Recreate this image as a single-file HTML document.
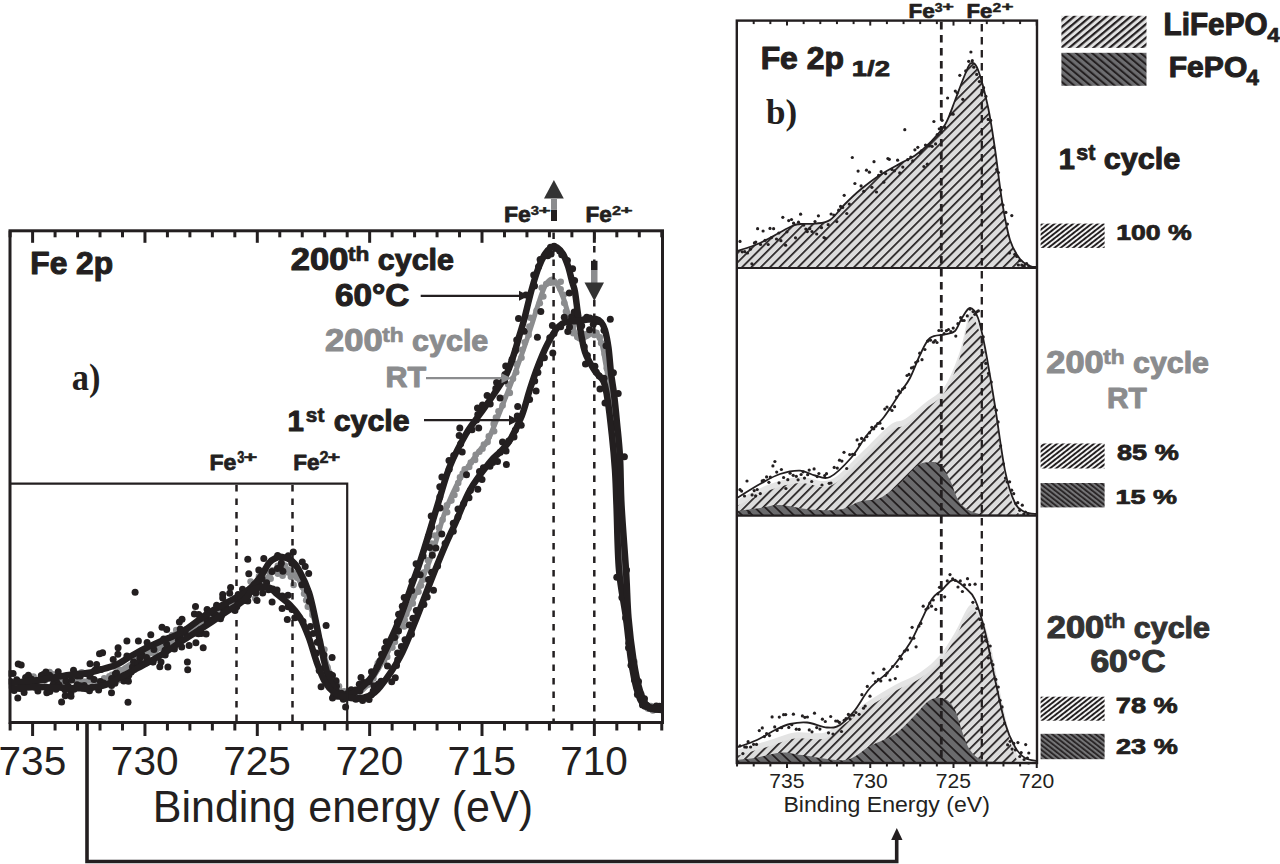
<!DOCTYPE html><html><head><meta charset="utf-8"><style>html,body{margin:0;padding:0;background:#fff;}svg{display:block}</style></head><body>
<svg width="1280" height="864" viewBox="0 0 1280 864">
<defs>
<pattern id="hl" patternUnits="userSpaceOnUse" width="6.6" height="20" patternTransform="rotate(45)"><rect width="6.6" height="20" fill="#dcdcdc"/><rect width="1.7" height="20" fill="#231f20"/></pattern>
<pattern id="hd" patternUnits="userSpaceOnUse" width="7.2" height="20" patternTransform="rotate(-46)"><rect width="7.2" height="20" fill="#6a6a6c"/><rect width="1.8" height="20" fill="#231f20"/></pattern>
<pattern id="ll" patternUnits="userSpaceOnUse" width="5.2" height="20" patternTransform="rotate(50)"><rect width="5.2" height="20" fill="#e2e2e2"/><rect width="2.2" height="20" fill="#231f20"/></pattern>
<pattern id="ld" patternUnits="userSpaceOnUse" width="5.2" height="20" patternTransform="rotate(-50)"><rect width="5.2" height="20" fill="#6d6d70"/><rect width="2.0" height="20" fill="#231f20"/></pattern>
<pattern id="sl" patternUnits="userSpaceOnUse" width="3.8" height="20" patternTransform="rotate(52)"><rect width="3.8" height="20" fill="#f2f2f2"/><rect width="1.9" height="20" fill="#231f20"/></pattern>
<pattern id="sd" patternUnits="userSpaceOnUse" width="3.8" height="20" patternTransform="rotate(-52)"><rect width="3.8" height="20" fill="#747476"/><rect width="1.7" height="20" fill="#231f20"/></pattern>
</defs>
<rect width="1280" height="864" fill="#fff"/>
<g fill="#8b8c8e"><circle cx="11.0" cy="686.2" r="3.3"/><circle cx="14.4" cy="689.7" r="3.3"/><circle cx="15.9" cy="682.9" r="3.3"/><circle cx="18.6" cy="683.6" r="3.3"/><circle cx="21.4" cy="683.9" r="3.3"/><circle cx="24.4" cy="686.1" r="3.3"/><circle cx="27.0" cy="685.1" r="3.3"/><circle cx="28.6" cy="679.3" r="3.3"/><circle cx="31.0" cy="677.6" r="3.3"/><circle cx="33.5" cy="676.5" r="3.3"/><circle cx="36.9" cy="680.7" r="3.3"/><circle cx="39.4" cy="679.7" r="3.3"/><circle cx="42.2" cy="680.1" r="3.3"/><circle cx="44.9" cy="680.7" r="3.3"/><circle cx="47.2" cy="678.1" r="3.3"/><circle cx="49.6" cy="672.0" r="3.3"/><circle cx="52.9" cy="674.2" r="3.3"/><circle cx="55.0" cy="683.1" r="3.3"/><circle cx="57.7" cy="680.6" r="3.3"/><circle cx="60.5" cy="678.5" r="3.3"/><circle cx="62.8" cy="683.4" r="3.3"/><circle cx="65.6" cy="679.1" r="3.3"/><circle cx="68.4" cy="676.6" r="3.3"/><circle cx="70.8" cy="680.0" r="3.3"/><circle cx="73.8" cy="673.8" r="3.3"/><circle cx="76.2" cy="676.7" r="3.3"/><circle cx="78.2" cy="687.3" r="3.3"/><circle cx="81.7" cy="672.4" r="3.3"/><circle cx="83.5" cy="686.7" r="3.3"/><circle cx="86.1" cy="674.0" r="3.3"/><circle cx="89.0" cy="680.3" r="3.3"/><circle cx="91.5" cy="678.3" r="3.3"/><circle cx="94.2" cy="680.3" r="3.3"/><circle cx="96.9" cy="681.6" r="3.3"/><circle cx="99.7" cy="685.6" r="3.3"/><circle cx="102.2" cy="683.5" r="3.3"/><circle cx="104.2" cy="678.4" r="3.3"/><circle cx="110.2" cy="683.6" r="3.3"/><circle cx="109.4" cy="676.4" r="3.3"/><circle cx="112.0" cy="674.9" r="3.3"/><circle cx="118.8" cy="680.0" r="3.3"/><circle cx="114.1" cy="666.5" r="3.3"/><circle cx="119.9" cy="670.2" r="3.3"/><circle cx="123.5" cy="670.2" r="3.3"/><circle cx="126.0" cy="668.4" r="3.3"/><circle cx="129.8" cy="668.7" r="3.3"/><circle cx="134.1" cy="670.1" r="3.3"/><circle cx="134.1" cy="664.4" r="3.3"/><circle cx="137.1" cy="663.7" r="3.3"/><circle cx="137.4" cy="658.1" r="3.3"/><circle cx="139.6" cy="655.9" r="3.3"/><circle cx="141.8" cy="653.7" r="3.3"/><circle cx="148.1" cy="658.9" r="3.3"/><circle cx="148.1" cy="652.7" r="3.3"/><circle cx="151.5" cy="652.8" r="3.3"/><circle cx="155.4" cy="653.7" r="3.3"/><circle cx="156.4" cy="649.2" r="3.3"/><circle cx="159.1" cy="648.1" r="3.3"/><circle cx="164.1" cy="651.1" r="3.3"/><circle cx="164.7" cy="646.0" r="3.3"/><circle cx="165.7" cy="641.7" r="3.3"/><circle cx="168.3" cy="640.2" r="3.3"/><circle cx="170.6" cy="638.3" r="3.3"/><circle cx="172.2" cy="635.0" r="3.3"/><circle cx="175.5" cy="634.9" r="3.3"/><circle cx="176.2" cy="630.0" r="3.3"/><circle cx="181.2" cy="633.4" r="3.3"/><circle cx="184.2" cy="632.4" r="3.3"/><circle cx="186.0" cy="629.4" r="3.3"/><circle cx="192.3" cy="633.1" r="3.3"/><circle cx="193.1" cy="628.6" r="3.3"/><circle cx="195.1" cy="626.1" r="3.3"/><circle cx="197.7" cy="624.2" r="3.3"/><circle cx="202.1" cy="625.1" r="3.3"/><circle cx="204.2" cy="622.6" r="3.3"/><circle cx="207.9" cy="622.5" r="3.3"/><circle cx="207.9" cy="616.8" r="3.3"/><circle cx="212.7" cy="618.7" r="3.3"/><circle cx="214.5" cy="615.8" r="3.3"/><circle cx="215.5" cy="611.6" r="3.3"/><circle cx="220.5" cy="613.9" r="3.3"/><circle cx="220.2" cy="607.6" r="3.3"/><circle cx="223.0" cy="606.2" r="3.3"/><circle cx="226.6" cy="606.2" r="3.3"/><circle cx="230.0" cy="606.0" r="3.3"/><circle cx="233.3" cy="605.7" r="3.3"/><circle cx="235.2" cy="602.9" r="3.3"/><circle cx="235.7" cy="597.8" r="3.3"/><circle cx="240.2" cy="599.5" r="3.3"/><circle cx="241.0" cy="595.1" r="3.3"/><circle cx="243.1" cy="593.0" r="3.3"/><circle cx="248.6" cy="594.9" r="3.3"/><circle cx="255.2" cy="598.3" r="3.3"/><circle cx="252.9" cy="589.8" r="3.3"/><circle cx="250.6" cy="581.5" r="3.3"/><circle cx="260.1" cy="588.3" r="3.3"/><circle cx="260.5" cy="583.4" r="3.3"/><circle cx="259.0" cy="576.2" r="3.3"/><circle cx="265.3" cy="578.6" r="3.3"/><circle cx="270.6" cy="578.8" r="3.3"/><circle cx="269.3" cy="572.3" r="3.3"/><circle cx="272.5" cy="570.3" r="3.3"/><circle cx="277.9" cy="573.7" r="3.3"/><circle cx="277.8" cy="565.8" r="3.3"/><circle cx="282.6" cy="575.8" r="3.3"/><circle cx="284.9" cy="565.6" r="3.3"/><circle cx="286.1" cy="570.4" r="3.3"/><circle cx="288.3" cy="572.5" r="3.3"/><circle cx="296.2" cy="565.4" r="3.3"/><circle cx="290.9" cy="576.8" r="3.3"/><circle cx="297.1" cy="577.8" r="3.3"/><circle cx="293.6" cy="584.9" r="3.3"/><circle cx="302.7" cy="587.1" r="3.3"/><circle cx="304.1" cy="593.8" r="3.3"/><circle cx="306.2" cy="600.2" r="3.3"/><circle cx="307.8" cy="606.8" r="3.3"/><circle cx="312.5" cy="614.9" r="3.3"/><circle cx="315.4" cy="623.6" r="3.3"/><circle cx="316.7" cy="632.8" r="3.3"/><circle cx="320.0" cy="641.4" r="3.3"/><circle cx="324.4" cy="649.5" r="3.3"/><circle cx="323.9" cy="659.0" r="3.3"/><circle cx="327.5" cy="667.3" r="3.3"/><circle cx="330.6" cy="674.4" r="3.3"/><circle cx="330.9" cy="679.9" r="3.3"/><circle cx="336.4" cy="682.3" r="3.3"/><circle cx="339.0" cy="686.3" r="3.3"/><circle cx="340.3" cy="691.5" r="3.3"/><circle cx="344.1" cy="691.2" r="3.3"/><circle cx="346.6" cy="692.3" r="3.3"/><circle cx="348.7" cy="694.9" r="3.3"/><circle cx="351.3" cy="695.5" r="3.3"/><circle cx="354.2" cy="695.6" r="3.3"/><circle cx="357.1" cy="693.8" r="3.3"/><circle cx="359.6" cy="691.4" r="3.3"/><circle cx="361.1" cy="687.8" r="3.3"/><circle cx="363.7" cy="685.7" r="3.3"/><circle cx="367.6" cy="684.9" r="3.3"/><circle cx="368.2" cy="680.9" r="3.3"/><circle cx="373.4" cy="678.5" r="3.3"/><circle cx="373.1" cy="672.4" r="3.3"/><circle cx="377.2" cy="668.8" r="3.3"/><circle cx="377.8" cy="663.3" r="3.3"/><circle cx="384.0" cy="660.9" r="3.3"/><circle cx="387.2" cy="656.9" r="3.3"/><circle cx="386.6" cy="650.6" r="3.3"/><circle cx="392.4" cy="647.6" r="3.3"/><circle cx="394.9" cy="642.1" r="3.3"/><circle cx="396.3" cy="636.1" r="3.3"/><circle cx="396.5" cy="629.4" r="3.3"/><circle cx="404.2" cy="626.4" r="3.3"/><circle cx="404.7" cy="620.0" r="3.3"/><circle cx="406.3" cy="614.0" r="3.3"/><circle cx="408.4" cy="608.3" r="3.3"/><circle cx="412.8" cy="603.4" r="3.3"/><circle cx="413.4" cy="596.5" r="3.3"/><circle cx="418.5" cy="591.7" r="3.3"/><circle cx="421.0" cy="585.6" r="3.3"/><circle cx="423.5" cy="579.6" r="3.3"/><circle cx="423.9" cy="572.6" r="3.3"/><circle cx="427.2" cy="567.0" r="3.3"/><circle cx="427.9" cy="560.3" r="3.3"/><circle cx="432.2" cy="553.0" r="3.3"/><circle cx="431.5" cy="543.6" r="3.3"/><circle cx="434.9" cy="535.5" r="3.3"/><circle cx="438.9" cy="527.7" r="3.3"/><circle cx="442.6" cy="519.7" r="3.3"/><circle cx="447.1" cy="512.3" r="3.3"/><circle cx="446.9" cy="505.4" r="3.3"/><circle cx="451.4" cy="500.6" r="3.3"/><circle cx="454.4" cy="495.0" r="3.3"/><circle cx="456.4" cy="489.0" r="3.3"/><circle cx="458.2" cy="483.0" r="3.3"/><circle cx="460.0" cy="477.4" r="3.3"/><circle cx="462.7" cy="473.6" r="3.3"/><circle cx="464.7" cy="469.4" r="3.3"/><circle cx="469.2" cy="466.9" r="3.3"/><circle cx="470.8" cy="462.5" r="3.3"/><circle cx="475.1" cy="459.9" r="3.3"/><circle cx="475.7" cy="454.7" r="3.3"/><circle cx="479.4" cy="451.7" r="3.3"/><circle cx="482.5" cy="448.7" r="3.3"/><circle cx="483.9" cy="444.5" r="3.3"/><circle cx="487.6" cy="442.1" r="3.3"/><circle cx="488.8" cy="436.4" r="3.3"/><circle cx="494.1" cy="431.3" r="3.3"/><circle cx="493.7" cy="423.9" r="3.3"/><circle cx="496.0" cy="417.6" r="3.3"/><circle cx="498.5" cy="411.3" r="3.3"/><circle cx="502.6" cy="405.5" r="3.3"/><circle cx="503.9" cy="398.3" r="3.3"/><circle cx="509.8" cy="392.9" r="3.3"/><circle cx="508.3" cy="384.6" r="3.3"/><circle cx="513.0" cy="378.8" r="3.3"/><circle cx="516.2" cy="372.2" r="3.3"/><circle cx="516.4" cy="364.1" r="3.3"/><circle cx="521.5" cy="357.8" r="3.3"/><circle cx="522.1" cy="349.8" r="3.3"/><circle cx="524.8" cy="342.3" r="3.3"/><circle cx="528.6" cy="334.9" r="3.3"/><circle cx="529.4" cy="326.5" r="3.3"/><circle cx="530.4" cy="317.8" r="3.3"/><circle cx="536.6" cy="310.8" r="3.3"/><circle cx="539.8" cy="303.2" r="3.3"/><circle cx="543.3" cy="296.5" r="3.3"/><circle cx="541.7" cy="287.8" r="3.3"/><circle cx="546.2" cy="284.0" r="3.3"/><circle cx="550.2" cy="282.8" r="3.3"/><circle cx="552.1" cy="281.6" r="3.3"/><circle cx="553.3" cy="282.5" r="3.3"/><circle cx="560.7" cy="281.7" r="3.3"/><circle cx="560.6" cy="289.2" r="3.3"/><circle cx="563.7" cy="294.7" r="3.3"/><circle cx="564.2" cy="303.0" r="3.3"/><circle cx="566.0" cy="311.5" r="3.3"/><circle cx="570.4" cy="318.5" r="3.3"/><circle cx="572.9" cy="325.9" r="3.3"/><circle cx="573.3" cy="333.2" r="3.3"/><circle cx="577.3" cy="337.1" r="3.3"/><circle cx="580.3" cy="338.2" r="3.3"/><circle cx="583.1" cy="338.0" r="3.3"/><circle cx="584.8" cy="334.4" r="3.3"/><circle cx="587.6" cy="334.5" r="3.3"/><circle cx="589.7" cy="332.5" r="3.3"/><circle cx="594.4" cy="335.0" r="3.3"/><circle cx="596.4" cy="332.8" r="3.3"/><circle cx="599.8" cy="337.4" r="3.3"/><circle cx="601.1" cy="343.1" r="3.3"/><circle cx="604.7" cy="354.0" r="3.3"/><circle cx="606.8" cy="368.2" r="3.3"/><circle cx="607.7" cy="384.0" r="3.3"/><circle cx="608.8" cy="400.4" r="3.3"/><circle cx="613.4" cy="427.1" r="3.3"/><circle cx="617.1" cy="466.6" r="3.3"/><circle cx="621.0" cy="519.5" r="3.3"/><circle cx="623.1" cy="561.8" r="3.3"/><circle cx="625.0" cy="592.4" r="3.3"/><circle cx="626.3" cy="619.8" r="3.3"/><circle cx="629.7" cy="641.5" r="3.3"/><circle cx="634.3" cy="661.6" r="3.3"/><circle cx="635.1" cy="674.3" r="3.3"/><circle cx="636.2" cy="687.0" r="3.3"/><circle cx="641.2" cy="694.1" r="3.3"/><circle cx="642.8" cy="700.2" r="3.3"/><circle cx="646.0" cy="705.3" r="3.3"/><circle cx="647.8" cy="708.6" r="3.3"/><circle cx="650.9" cy="706.0" r="3.3"/><circle cx="652.8" cy="710.4" r="3.3"/><circle cx="655.7" cy="709.1" r="3.3"/><circle cx="658.3" cy="709.4" r="3.3"/></g>
<path d="M10.0,686.0 C16.7,684.8 37.5,679.8 50.0,679.0 C62.5,678.2 75.8,680.8 85.0,681.0 C94.2,681.2 97.3,682.8 105.0,680.0 C112.7,677.2 122.5,669.0 131.0,664.0 C139.5,659.0 147.5,654.7 156.0,650.0 C164.5,645.3 173.5,641.2 182.0,636.0 C190.5,630.8 199.7,623.8 207.0,619.0 C214.3,614.2 220.0,610.7 226.0,607.0 C232.0,603.3 238.2,600.2 243.0,597.0 C247.8,593.8 251.3,590.8 255.0,588.0 C258.7,585.2 261.7,583.0 265.0,580.0 C268.3,577.0 272.2,572.1 275.0,570.0 C277.8,567.9 279.2,567.3 282.0,567.5 C284.8,567.7 289.0,568.6 292.0,571.0 C295.0,573.4 297.0,576.2 300.0,582.0 C303.0,587.8 306.7,596.3 310.0,606.0 C313.3,615.7 316.7,628.8 320.0,640.0 C323.3,651.2 326.3,664.3 330.0,673.0 C333.7,681.7 337.8,688.3 342.0,692.0 C346.2,695.7 350.3,696.7 355.0,695.0 C359.7,693.3 364.2,689.8 370.0,682.0 C375.8,674.2 383.3,660.7 390.0,648.0 C396.7,635.3 403.3,620.7 410.0,606.0 C416.7,591.3 424.2,575.7 430.0,560.0 C435.8,544.3 440.0,525.5 445.0,512.0 C450.0,498.5 454.2,489.3 460.0,479.0 C465.8,468.7 475.3,456.5 480.0,450.0 C484.7,443.5 484.5,446.8 488.0,440.0 C491.5,433.2 496.5,420.2 501.0,409.0 C505.5,397.8 511.2,383.2 515.0,373.0 C518.8,362.8 521.3,355.7 524.0,348.0 C526.7,340.3 528.7,334.2 531.0,327.0 C533.3,319.8 535.7,311.8 538.0,305.0 C540.3,298.2 542.7,290.3 545.0,286.0 C547.3,281.7 550.0,279.3 552.0,279.0 C554.0,278.7 555.2,281.0 557.0,284.0 C558.8,287.0 561.2,292.2 563.0,297.0 C564.8,301.8 566.2,307.5 568.0,313.0 C569.8,318.5 572.2,325.7 574.0,330.0 C575.8,334.3 576.7,338.0 579.0,339.0 C581.3,340.0 585.3,337.2 588.0,336.0 C590.7,334.8 593.1,330.7 595.4,332.0 C597.7,333.3 600.1,339.5 601.7,344.0 C603.3,348.5 603.8,353.4 604.8,359.0 C605.8,364.6 606.8,370.2 608.0,377.5 C609.2,384.8 610.8,392.8 612.0,402.5 C613.2,412.2 614.2,424.8 615.0,436.0 C615.8,447.2 616.4,458.5 617.0,470.0 C617.6,481.5 617.6,488.3 618.5,505.0 C619.4,521.7 621.1,551.2 622.5,570.0 C623.9,588.8 625.4,603.0 627.0,618.0 C628.6,633.0 630.1,647.8 632.0,660.0 C633.9,672.2 636.2,683.2 638.5,691.0 C640.8,698.8 642.1,703.9 646.0,707.0 C649.9,710.1 659.3,709.1 662.0,709.5" fill="none" stroke="#8b8c8e" stroke-width="5" stroke-linejoin="round"/>
<g fill="#231f20"><circle cx="10.2" cy="673.5" r="3.5"/><circle cx="13.1" cy="673.5" r="3.5"/><circle cx="16.7" cy="679.8" r="3.5"/><circle cx="18.2" cy="664.0" r="3.5"/><circle cx="24.1" cy="692.5" r="3.5"/><circle cx="25.6" cy="677.4" r="3.5"/><circle cx="28.4" cy="675.2" r="3.5"/><circle cx="32.1" cy="682.0" r="3.5"/><circle cx="35.7" cy="686.0" r="3.5"/><circle cx="38.1" cy="680.5" r="3.5"/><circle cx="41.1" cy="680.0" r="3.5"/><circle cx="43.3" cy="674.4" r="3.5"/><circle cx="45.9" cy="671.9" r="3.5"/><circle cx="49.6" cy="675.3" r="3.5"/><circle cx="53.2" cy="679.0" r="3.5"/><circle cx="56.9" cy="682.4" r="3.5"/><circle cx="58.2" cy="671.7" r="3.5"/><circle cx="65.2" cy="695.7" r="3.5"/><circle cx="65.9" cy="680.9" r="3.5"/><circle cx="70.8" cy="693.2" r="3.5"/><circle cx="71.6" cy="680.0" r="3.5"/><circle cx="73.5" cy="670.3" r="3.5"/><circle cx="77.2" cy="675.9" r="3.5"/><circle cx="80.3" cy="676.1" r="3.5"/><circle cx="84.3" cy="685.4" r="3.5"/><circle cx="86.0" cy="673.4" r="3.5"/><circle cx="89.9" cy="676.2" r="3.5"/><circle cx="90.0" cy="663.7" r="3.5"/><circle cx="94.8" cy="670.3" r="3.5"/><circle cx="96.6" cy="664.6" r="3.5"/><circle cx="101.0" cy="669.4" r="3.5"/><circle cx="99.5" cy="653.7" r="3.5"/><circle cx="102.6" cy="652.8" r="3.5"/><circle cx="115.0" cy="683.2" r="3.5"/><circle cx="115.4" cy="673.8" r="3.5"/><circle cx="123.8" cy="681.1" r="3.5"/><circle cx="127.7" cy="677.9" r="3.5"/><circle cx="117.9" cy="654.2" r="3.5"/><circle cx="118.1" cy="647.7" r="3.5"/><circle cx="126.9" cy="655.9" r="3.5"/><circle cx="136.0" cy="664.9" r="3.5"/><circle cx="126.9" cy="641.0" r="3.5"/><circle cx="139.9" cy="658.2" r="3.5"/><circle cx="141.9" cy="654.7" r="3.5"/><circle cx="138.4" cy="641.0" r="3.5"/><circle cx="152.8" cy="661.8" r="3.5"/><circle cx="147.1" cy="642.6" r="3.5"/><circle cx="153.9" cy="649.4" r="3.5"/><circle cx="150.8" cy="634.7" r="3.5"/><circle cx="135.1" cy="592.3" r="3.5"/><circle cx="165.0" cy="650.2" r="3.5"/><circle cx="163.7" cy="639.1" r="3.5"/><circle cx="162.0" cy="627.2" r="3.5"/><circle cx="166.7" cy="629.6" r="3.5"/><circle cx="187.7" cy="669.7" r="3.5"/><circle cx="178.4" cy="640.2" r="3.5"/><circle cx="179.9" cy="635.4" r="3.5"/><circle cx="180.2" cy="628.9" r="3.5"/><circle cx="179.4" cy="622.0" r="3.5"/><circle cx="182.0" cy="619.3" r="3.5"/><circle cx="196.3" cy="632.9" r="3.5"/><circle cx="201.3" cy="633.5" r="3.5"/><circle cx="206.1" cy="633.9" r="3.5"/><circle cx="200.0" cy="619.0" r="3.5"/><circle cx="195.5" cy="606.4" r="3.5"/><circle cx="206.5" cy="615.5" r="3.5"/><circle cx="207.1" cy="609.6" r="3.5"/><circle cx="213.3" cy="613.3" r="3.5"/><circle cx="220.5" cy="618.8" r="3.5"/><circle cx="216.6" cy="605.2" r="3.5"/><circle cx="223.7" cy="610.6" r="3.5"/><circle cx="225.7" cy="607.1" r="3.5"/><circle cx="222.7" cy="594.5" r="3.5"/><circle cx="235.0" cy="610.4" r="3.5"/><circle cx="229.7" cy="593.2" r="3.5"/><circle cx="230.6" cy="587.5" r="3.5"/><circle cx="238.2" cy="594.5" r="3.5"/><circle cx="245.4" cy="600.4" r="3.5"/><circle cx="242.5" cy="589.3" r="3.5"/><circle cx="257.0" cy="600.4" r="3.5"/><circle cx="255.9" cy="593.0" r="3.5"/><circle cx="254.4" cy="584.6" r="3.5"/><circle cx="248.8" cy="573.7" r="3.5"/><circle cx="262.0" cy="578.8" r="3.5"/><circle cx="258.8" cy="570.1" r="3.5"/><circle cx="272.0" cy="571.6" r="3.5"/><circle cx="263.8" cy="558.6" r="3.5"/><circle cx="277.4" cy="568.5" r="3.5"/><circle cx="282.9" cy="571.3" r="3.5"/><circle cx="277.6" cy="555.5" r="3.5"/><circle cx="281.4" cy="562.9" r="3.5"/><circle cx="280.3" cy="567.0" r="3.5"/><circle cx="288.3" cy="555.8" r="3.5"/><circle cx="293.3" cy="551.9" r="3.5"/><circle cx="291.8" cy="563.3" r="3.5"/><circle cx="302.3" cy="561.9" r="3.5"/><circle cx="305.2" cy="566.6" r="3.5"/><circle cx="308.7" cy="573.6" r="3.5"/><circle cx="301.8" cy="584.8" r="3.5"/><circle cx="307.4" cy="590.4" r="3.5"/><circle cx="309.3" cy="601.2" r="3.5"/><circle cx="294.8" cy="617.8" r="3.5"/><circle cx="326.1" cy="625.5" r="3.5"/><circle cx="319.5" cy="642.2" r="3.5"/><circle cx="324.0" cy="655.1" r="3.5"/><circle cx="321.1" cy="669.0" r="3.5"/><circle cx="332.5" cy="675.6" r="3.5"/><circle cx="331.2" cy="684.0" r="3.5"/><circle cx="334.0" cy="689.8" r="3.5"/><circle cx="332.5" cy="697.9" r="3.5"/><circle cx="341.4" cy="693.2" r="3.5"/><circle cx="344.0" cy="698.6" r="3.5"/><circle cx="347.0" cy="693.8" r="3.5"/><circle cx="350.2" cy="695.3" r="3.5"/><circle cx="351.2" cy="689.8" r="3.5"/><circle cx="355.5" cy="690.1" r="3.5"/><circle cx="359.9" cy="690.7" r="3.5"/><circle cx="359.3" cy="684.2" r="3.5"/><circle cx="363.9" cy="682.6" r="3.5"/><circle cx="369.2" cy="681.5" r="3.5"/><circle cx="378.4" cy="684.0" r="3.5"/><circle cx="371.5" cy="671.7" r="3.5"/><circle cx="377.1" cy="667.1" r="3.5"/><circle cx="379.9" cy="661.0" r="3.5"/><circle cx="381.5" cy="654.3" r="3.5"/><circle cx="384.7" cy="648.3" r="3.5"/><circle cx="386.3" cy="641.7" r="3.5"/><circle cx="394.7" cy="637.6" r="3.5"/><circle cx="398.5" cy="631.0" r="3.5"/><circle cx="397.4" cy="622.3" r="3.5"/><circle cx="398.6" cy="614.3" r="3.5"/><circle cx="402.3" cy="606.2" r="3.5"/><circle cx="404.2" cy="597.4" r="3.5"/><circle cx="411.7" cy="590.6" r="3.5"/><circle cx="412.0" cy="581.3" r="3.5"/><circle cx="420.2" cy="574.7" r="3.5"/><circle cx="416.1" cy="563.8" r="3.5"/><circle cx="423.1" cy="555.9" r="3.5"/><circle cx="429.7" cy="547.5" r="3.5"/><circle cx="428.4" cy="536.5" r="3.5"/><circle cx="431.6" cy="526.9" r="3.5"/><circle cx="431.2" cy="515.9" r="3.5"/><circle cx="440.2" cy="507.9" r="3.5"/><circle cx="439.8" cy="496.9" r="3.5"/><circle cx="439.8" cy="486.7" r="3.5"/><circle cx="441.9" cy="477.1" r="3.5"/><circle cx="449.2" cy="469.2" r="3.5"/><circle cx="449.0" cy="460.5" r="3.5"/><circle cx="453.7" cy="455.4" r="3.5"/><circle cx="462.2" cy="452.1" r="3.5"/><circle cx="460.7" cy="443.8" r="3.5"/><circle cx="459.2" cy="435.6" r="3.5"/><circle cx="459.8" cy="427.9" r="3.5"/><circle cx="472.0" cy="429.7" r="3.5"/><circle cx="478.7" cy="428.0" r="3.5"/><circle cx="476.5" cy="420.1" r="3.5"/><circle cx="477.8" cy="414.6" r="3.5"/><circle cx="477.5" cy="408.0" r="3.5"/><circle cx="482.5" cy="405.1" r="3.5"/><circle cx="490.2" cy="404.1" r="3.5"/><circle cx="487.1" cy="395.6" r="3.5"/><circle cx="500.0" cy="398.0" r="3.5"/><circle cx="495.8" cy="388.5" r="3.5"/><circle cx="496.6" cy="382.4" r="3.5"/><circle cx="504.6" cy="380.8" r="3.5"/><circle cx="504.9" cy="374.5" r="3.5"/><circle cx="505.7" cy="366.0" r="3.5"/><circle cx="512.0" cy="359.6" r="3.5"/><circle cx="515.5" cy="350.5" r="3.5"/><circle cx="516.7" cy="339.9" r="3.5"/><circle cx="524.2" cy="331.2" r="3.5"/><circle cx="518.5" cy="318.5" r="3.5"/><circle cx="540.8" cy="311.4" r="3.5"/><circle cx="525.9" cy="295.0" r="3.5"/><circle cx="534.5" cy="285.9" r="3.5"/><circle cx="533.7" cy="274.9" r="3.5"/><circle cx="538.5" cy="266.7" r="3.5"/><circle cx="540.1" cy="259.5" r="3.5"/><circle cx="547.7" cy="255.7" r="3.5"/><circle cx="551.1" cy="254.1" r="3.5"/><circle cx="550.5" cy="247.3" r="3.5"/><circle cx="554.1" cy="246.3" r="3.5"/><circle cx="556.4" cy="248.5" r="3.5"/><circle cx="559.6" cy="251.1" r="3.5"/><circle cx="561.7" cy="254.8" r="3.5"/><circle cx="567.4" cy="260.6" r="3.5"/><circle cx="572.6" cy="268.8" r="3.5"/><circle cx="574.6" cy="280.4" r="3.5"/><circle cx="569.3" cy="293.1" r="3.5"/><circle cx="575.9" cy="314.1" r="3.5"/><circle cx="589.6" cy="329.7" r="3.5"/><circle cx="584.3" cy="346.8" r="3.5"/><circle cx="587.4" cy="355.6" r="3.5"/><circle cx="585.5" cy="363.9" r="3.5"/><circle cx="594.9" cy="366.2" r="3.5"/><circle cx="596.2" cy="372.1" r="3.5"/><circle cx="599.2" cy="375.9" r="3.5"/><circle cx="604.0" cy="378.2" r="3.5"/><circle cx="600.0" cy="389.1" r="3.5"/><circle cx="605.0" cy="403.0" r="3.5"/><circle cx="613.4" cy="427.4" r="3.5"/><circle cx="615.6" cy="458.5" r="3.5"/><circle cx="620.5" cy="517.9" r="3.5"/><circle cx="616.8" cy="577.2" r="3.5"/><circle cx="621.9" cy="597.6" r="3.5"/><circle cx="625.6" cy="618.0" r="3.5"/><circle cx="628.8" cy="643.2" r="3.5"/><circle cx="631.0" cy="665.2" r="3.5"/><circle cx="634.5" cy="680.1" r="3.5"/><circle cx="638.9" cy="691.6" r="3.5"/><circle cx="640.8" cy="698.1" r="3.5"/><circle cx="642.5" cy="704.9" r="3.5"/><circle cx="647.1" cy="705.5" r="3.5"/><circle cx="649.9" cy="707.6" r="3.5"/><circle cx="652.9" cy="708.1" r="3.5"/><circle cx="656.3" cy="706.0" r="3.5"/><circle cx="659.4" cy="706.3" r="3.5"/></g>
<g fill="#231f20"><circle cx="10.5" cy="681.4" r="3.5"/><circle cx="14.1" cy="690.5" r="3.5"/><circle cx="17.8" cy="697.9" r="3.5"/><circle cx="20.0" cy="688.6" r="3.5"/><circle cx="21.2" cy="665.1" r="3.5"/><circle cx="25.7" cy="684.0" r="3.5"/><circle cx="28.8" cy="685.0" r="3.5"/><circle cx="31.3" cy="678.9" r="3.5"/><circle cx="35.0" cy="687.3" r="3.5"/><circle cx="37.9" cy="691.0" r="3.5"/><circle cx="41.3" cy="675.5" r="3.5"/><circle cx="44.2" cy="679.8" r="3.5"/><circle cx="46.8" cy="692.7" r="3.5"/><circle cx="49.9" cy="691.4" r="3.5"/><circle cx="53.1" cy="684.5" r="3.5"/><circle cx="56.0" cy="689.2" r="3.5"/><circle cx="59.1" cy="684.9" r="3.5"/><circle cx="61.6" cy="702.1" r="3.5"/><circle cx="64.9" cy="689.8" r="3.5"/><circle cx="68.0" cy="686.1" r="3.5"/><circle cx="71.0" cy="696.3" r="3.5"/><circle cx="74.0" cy="689.2" r="3.5"/><circle cx="77.0" cy="684.7" r="3.5"/><circle cx="80.0" cy="685.7" r="3.5"/><circle cx="83.0" cy="688.3" r="3.5"/><circle cx="86.1" cy="688.8" r="3.5"/><circle cx="89.5" cy="690.7" r="3.5"/><circle cx="92.1" cy="687.3" r="3.5"/><circle cx="94.0" cy="679.5" r="3.5"/><circle cx="98.6" cy="689.9" r="3.5"/><circle cx="100.4" cy="681.4" r="3.5"/><circle cx="103.6" cy="682.9" r="3.5"/><circle cx="111.5" cy="692.7" r="3.5"/><circle cx="111.6" cy="685.6" r="3.5"/><circle cx="111.6" cy="678.4" r="3.5"/><circle cx="128.0" cy="702.3" r="3.5"/><circle cx="116.5" cy="673.1" r="3.5"/><circle cx="113.2" cy="659.6" r="3.5"/><circle cx="128.4" cy="681.3" r="3.5"/><circle cx="128.9" cy="675.0" r="3.5"/><circle cx="131.2" cy="672.1" r="3.5"/><circle cx="132.4" cy="667.0" r="3.5"/><circle cx="133.5" cy="661.8" r="3.5"/><circle cx="137.9" cy="663.0" r="3.5"/><circle cx="142.3" cy="664.1" r="3.5"/><circle cx="145.7" cy="663.0" r="3.5"/><circle cx="146.5" cy="657.5" r="3.5"/><circle cx="153.1" cy="662.1" r="3.5"/><circle cx="159.8" cy="666.7" r="3.5"/><circle cx="161.0" cy="661.9" r="3.5"/><circle cx="167.9" cy="666.9" r="3.5"/><circle cx="165.2" cy="655.0" r="3.5"/><circle cx="166.1" cy="649.8" r="3.5"/><circle cx="166.7" cy="644.2" r="3.5"/><circle cx="174.4" cy="649.1" r="3.5"/><circle cx="187.4" cy="662.0" r="3.5"/><circle cx="181.7" cy="647.1" r="3.5"/><circle cx="178.7" cy="636.1" r="3.5"/><circle cx="189.1" cy="645.4" r="3.5"/><circle cx="185.2" cy="632.8" r="3.5"/><circle cx="195.9" cy="642.8" r="3.5"/><circle cx="203.2" cy="647.7" r="3.5"/><circle cx="198.5" cy="633.8" r="3.5"/><circle cx="200.1" cy="629.7" r="3.5"/><circle cx="194.4" cy="614.1" r="3.5"/><circle cx="198.7" cy="614.4" r="3.5"/><circle cx="206.7" cy="620.3" r="3.5"/><circle cx="211.1" cy="620.2" r="3.5"/><circle cx="214.4" cy="618.7" r="3.5"/><circle cx="216.4" cy="615.2" r="3.5"/><circle cx="221.4" cy="616.0" r="3.5"/><circle cx="219.6" cy="606.9" r="3.5"/><circle cx="225.4" cy="608.9" r="3.5"/><circle cx="222.7" cy="598.1" r="3.5"/><circle cx="234.1" cy="609.2" r="3.5"/><circle cx="236.8" cy="606.8" r="3.5"/><circle cx="237.7" cy="601.7" r="3.5"/><circle cx="240.9" cy="600.2" r="3.5"/><circle cx="247.8" cy="601.1" r="3.5"/><circle cx="248.2" cy="595.4" r="3.5"/><circle cx="248.9" cy="589.9" r="3.5"/><circle cx="254.7" cy="591.8" r="3.5"/><circle cx="247.8" cy="559.3" r="3.5"/><circle cx="259.1" cy="584.6" r="3.5"/><circle cx="262.7" cy="592.9" r="3.5"/><circle cx="266.6" cy="582.7" r="3.5"/><circle cx="268.5" cy="589.7" r="3.5"/><circle cx="272.8" cy="588.9" r="3.5"/><circle cx="277.0" cy="590.1" r="3.5"/><circle cx="272.1" cy="602.0" r="3.5"/><circle cx="282.3" cy="595.9" r="3.5"/><circle cx="288.0" cy="595.2" r="3.5"/><circle cx="282.1" cy="608.4" r="3.5"/><circle cx="288.1" cy="606.8" r="3.5"/><circle cx="292.0" cy="609.6" r="3.5"/><circle cx="287.3" cy="619.4" r="3.5"/><circle cx="298.1" cy="616.9" r="3.5"/><circle cx="303.0" cy="621.6" r="3.5"/><circle cx="310.4" cy="626.5" r="3.5"/><circle cx="313.1" cy="633.6" r="3.5"/><circle cx="317.2" cy="642.3" r="3.5"/><circle cx="316.3" cy="652.9" r="3.5"/><circle cx="332.1" cy="657.5" r="3.5"/><circle cx="319.2" cy="670.5" r="3.5"/><circle cx="330.1" cy="674.2" r="3.5"/><circle cx="321.1" cy="686.7" r="3.5"/><circle cx="336.0" cy="680.7" r="3.5"/><circle cx="336.5" cy="686.3" r="3.5"/><circle cx="333.6" cy="695.5" r="3.5"/><circle cx="337.1" cy="696.3" r="3.5"/><circle cx="340.6" cy="696.4" r="3.5"/><circle cx="343.3" cy="699.2" r="3.5"/><circle cx="345.6" cy="707.1" r="3.5"/><circle cx="350.6" cy="693.4" r="3.5"/><circle cx="353.7" cy="693.2" r="3.5"/><circle cx="355.9" cy="699.3" r="3.5"/><circle cx="359.1" cy="698.3" r="3.5"/><circle cx="362.6" cy="700.5" r="3.5"/><circle cx="361.0" cy="677.6" r="3.5"/><circle cx="369.1" cy="699.6" r="3.5"/><circle cx="371.3" cy="694.7" r="3.5"/><circle cx="373.2" cy="690.9" r="3.5"/><circle cx="373.9" cy="685.7" r="3.5"/><circle cx="378.7" cy="685.9" r="3.5"/><circle cx="381.1" cy="681.3" r="3.5"/><circle cx="391.7" cy="681.8" r="3.5"/><circle cx="395.3" cy="677.7" r="3.5"/><circle cx="387.5" cy="666.0" r="3.5"/><circle cx="396.5" cy="665.5" r="3.5"/><circle cx="397.7" cy="659.8" r="3.5"/><circle cx="397.6" cy="653.1" r="3.5"/><circle cx="401.4" cy="646.6" r="3.5"/><circle cx="405.0" cy="639.8" r="3.5"/><circle cx="411.5" cy="634.3" r="3.5"/><circle cx="409.3" cy="625.1" r="3.5"/><circle cx="412.9" cy="618.2" r="3.5"/><circle cx="416.3" cy="610.6" r="3.5"/><circle cx="423.9" cy="604.5" r="3.5"/><circle cx="427.2" cy="596.9" r="3.5"/><circle cx="433.5" cy="590.3" r="3.5"/><circle cx="428.6" cy="579.6" r="3.5"/><circle cx="431.6" cy="572.2" r="3.5"/><circle cx="437.6" cy="566.0" r="3.5"/><circle cx="432.3" cy="555.2" r="3.5"/><circle cx="435.9" cy="548.0" r="3.5"/><circle cx="445.1" cy="543.4" r="3.5"/><circle cx="441.8" cy="533.9" r="3.5"/><circle cx="453.3" cy="531.2" r="3.5"/><circle cx="453.3" cy="523.3" r="3.5"/><circle cx="457.9" cy="517.1" r="3.5"/><circle cx="458.0" cy="509.1" r="3.5"/><circle cx="463.7" cy="503.5" r="3.5"/><circle cx="469.0" cy="497.7" r="3.5"/><circle cx="470.5" cy="490.3" r="3.5"/><circle cx="477.8" cy="489.2" r="3.5"/><circle cx="466.5" cy="474.8" r="3.5"/><circle cx="482.0" cy="479.5" r="3.5"/><circle cx="479.5" cy="471.4" r="3.5"/><circle cx="483.4" cy="467.8" r="3.5"/><circle cx="490.0" cy="466.2" r="3.5"/><circle cx="492.7" cy="462.6" r="3.5"/><circle cx="497.5" cy="461.5" r="3.5"/><circle cx="506.4" cy="464.4" r="3.5"/><circle cx="500.3" cy="452.2" r="3.5"/><circle cx="506.1" cy="451.0" r="3.5"/><circle cx="502.5" cy="441.9" r="3.5"/><circle cx="508.7" cy="441.0" r="3.5"/><circle cx="514.0" cy="436.9" r="3.5"/><circle cx="515.4" cy="429.9" r="3.5"/><circle cx="521.2" cy="425.2" r="3.5"/><circle cx="517.3" cy="415.9" r="3.5"/><circle cx="517.7" cy="406.6" r="3.5"/><circle cx="529.6" cy="399.6" r="3.5"/><circle cx="536.1" cy="391.0" r="3.5"/><circle cx="534.7" cy="381.0" r="3.5"/><circle cx="537.9" cy="372.4" r="3.5"/><circle cx="539.5" cy="363.9" r="3.5"/><circle cx="544.4" cy="357.7" r="3.5"/><circle cx="552.8" cy="353.0" r="3.5"/><circle cx="537.4" cy="337.3" r="3.5"/><circle cx="549.8" cy="337.7" r="3.5"/><circle cx="554.0" cy="333.6" r="3.5"/><circle cx="552.4" cy="325.5" r="3.5"/><circle cx="560.7" cy="326.8" r="3.5"/><circle cx="567.8" cy="331.5" r="3.5"/><circle cx="564.3" cy="317.2" r="3.5"/><circle cx="569.5" cy="326.9" r="3.5"/><circle cx="571.6" cy="317.1" r="3.5"/><circle cx="574.2" cy="312.1" r="3.5"/><circle cx="577.8" cy="319.1" r="3.5"/><circle cx="581.7" cy="325.8" r="3.5"/><circle cx="583.9" cy="319.7" r="3.5"/><circle cx="586.7" cy="317.3" r="3.5"/><circle cx="589.9" cy="318.1" r="3.5"/><circle cx="593.3" cy="324.2" r="3.5"/><circle cx="595.4" cy="321.4" r="3.5"/><circle cx="598.6" cy="321.5" r="3.5"/><circle cx="610.3" cy="319.3" r="3.5"/><circle cx="604.0" cy="330.3" r="3.5"/><circle cx="606.0" cy="345.7" r="3.5"/><circle cx="613.4" cy="372.7" r="3.5"/><circle cx="618.2" cy="393.5" r="3.5"/><circle cx="615.9" cy="423.1" r="3.5"/><circle cx="624.4" cy="456.8" r="3.5"/><circle cx="621.1" cy="526.8" r="3.5"/><circle cx="626.5" cy="570.0" r="3.5"/><circle cx="627.4" cy="622.3" r="3.5"/><circle cx="628.5" cy="647.8" r="3.5"/><circle cx="632.7" cy="667.6" r="3.5"/><circle cx="638.5" cy="681.4" r="3.5"/><circle cx="637.4" cy="694.5" r="3.5"/><circle cx="644.5" cy="698.7" r="3.5"/><circle cx="645.0" cy="706.2" r="3.5"/><circle cx="649.8" cy="708.3" r="3.5"/><circle cx="653.0" cy="708.2" r="3.5"/><circle cx="655.9" cy="709.0" r="3.5"/><circle cx="659.1" cy="708.8" r="3.5"/></g>
<path d="M10.0,683.0 C14.2,682.6 25.2,681.8 35.0,680.5 C44.8,679.2 60.3,676.2 69.0,675.0 C77.7,673.8 82.0,673.8 87.0,673.0 C92.0,672.2 94.2,671.3 99.0,670.0 C103.8,668.7 110.3,667.3 115.6,665.0 C120.9,662.7 125.9,658.8 131.0,656.0 C136.1,653.2 140.9,650.5 146.0,648.0 C151.1,645.5 155.4,643.7 161.4,641.0 C167.4,638.3 174.4,636.5 182.0,632.0 C189.6,627.5 199.7,618.8 207.0,614.0 C214.3,609.2 220.0,606.3 226.0,603.0 C232.0,599.7 238.6,596.8 243.0,594.0 C247.4,591.2 249.5,589.0 252.5,586.0 C255.5,583.0 258.2,579.8 261.0,576.0 C263.8,572.2 266.5,566.0 269.0,563.0 C271.5,560.0 273.8,559.0 276.0,558.0 C278.2,557.0 279.3,556.5 282.0,557.0 C284.7,557.5 289.0,558.5 292.0,561.0 C295.0,563.5 297.2,566.8 300.0,572.0 C302.8,577.2 306.5,584.9 309.0,592.5 C311.5,600.1 313.0,608.4 315.0,617.5 C317.0,626.6 318.9,637.6 321.0,647.0 C323.1,656.4 325.3,667.2 327.5,674.0 C329.7,680.8 331.6,684.6 334.0,688.0 C336.4,691.4 339.3,693.5 342.0,694.6 C344.7,695.7 346.8,695.7 350.0,694.6 C353.2,693.5 357.2,691.3 361.0,688.0 C364.8,684.7 368.2,682.8 373.0,675.0 C377.8,667.2 385.5,650.5 390.0,641.0 C394.5,631.5 396.7,626.5 400.0,618.0 C403.3,609.5 406.7,599.3 410.0,590.0 C413.3,580.7 416.7,572.0 420.0,562.0 C423.3,552.0 426.7,540.8 430.0,530.0 C433.3,519.2 436.7,507.7 440.0,497.0 C443.3,486.3 445.7,476.5 450.0,466.0 C454.3,455.5 461.0,442.7 466.0,434.0 C471.0,425.3 475.3,420.7 480.0,414.0 C484.7,407.3 489.7,400.5 494.0,394.0 C498.3,387.5 502.8,381.2 506.0,375.0 C509.2,368.8 510.8,363.3 513.0,357.0 C515.2,350.7 517.2,343.2 519.0,337.0 C520.8,330.8 522.0,327.5 524.0,320.0 C526.0,312.5 528.7,300.5 531.0,292.0 C533.3,283.5 535.7,275.3 538.0,269.0 C540.3,262.7 542.7,257.7 545.0,254.0 C547.3,250.3 550.0,248.1 552.0,247.0 C554.0,245.9 555.2,246.2 557.0,247.4 C558.8,248.6 561.2,250.9 563.0,254.0 C564.8,257.1 566.4,261.2 568.0,266.0 C569.6,270.8 571.3,278.7 572.5,283.0 C573.7,287.3 573.9,285.7 575.0,292.0 C576.1,298.3 577.3,311.0 579.0,321.0 C580.7,331.0 582.3,343.7 585.0,352.0 C587.7,360.3 591.9,366.0 595.0,371.0 C598.1,376.0 601.6,376.8 603.8,382.0 C605.9,387.2 606.6,393.5 608.0,402.5 C609.4,411.5 610.8,424.8 612.0,436.0 C613.2,447.2 614.2,458.5 615.0,470.0 C615.8,481.5 615.8,488.3 616.5,505.0 C617.2,521.7 617.4,551.2 619.0,570.0 C620.6,588.8 624.0,603.0 626.0,618.0 C628.0,633.0 629.2,648.0 631.0,660.0 C632.8,672.0 634.7,682.3 637.0,690.0 C639.3,697.7 640.8,702.8 645.0,706.0 C649.2,709.2 659.2,708.5 662.0,709.0" fill="none" stroke="#231f20" stroke-width="6.5" stroke-linejoin="round"/>
<path d="M10.0,689.0 C14.2,688.7 25.2,687.2 35.0,687.0 C44.8,686.8 60.7,687.8 69.0,688.0 C77.3,688.2 78.9,688.5 85.0,688.0 C91.1,687.5 98.8,687.2 105.4,685.0 C112.0,682.8 118.1,678.3 124.5,675.0 C130.9,671.7 137.2,668.5 143.6,665.0 C150.0,661.5 156.3,658.0 162.7,654.0 C169.1,650.0 174.6,645.8 182.0,641.0 C189.4,636.2 199.7,629.8 207.0,625.0 C214.3,620.2 220.0,616.0 226.0,612.0 C232.0,608.0 238.6,604.7 243.0,601.0 C247.4,597.3 249.3,592.3 252.5,590.0 C255.7,587.7 259.1,587.3 262.0,587.0 C264.9,586.7 267.4,586.7 270.0,588.0 C272.6,589.3 274.2,591.8 277.5,594.6 C280.8,597.4 286.2,601.2 290.0,605.0 C293.8,608.8 296.8,612.0 300.0,617.5 C303.2,623.0 306.2,630.4 309.0,638.0 C311.8,645.6 314.3,655.7 317.0,663.0 C319.7,670.3 322.2,677.1 325.0,682.0 C327.8,686.9 330.8,690.0 334.0,692.5 C337.2,695.0 340.2,695.7 344.0,696.7 C347.8,697.7 352.8,698.6 357.0,698.5 C361.2,698.4 365.2,697.9 369.0,696.0 C372.8,694.1 374.8,693.5 380.0,687.0 C385.2,680.5 394.2,667.8 400.0,657.0 C405.8,646.2 410.0,634.3 415.0,622.0 C420.0,609.7 425.0,595.7 430.0,583.0 C435.0,570.3 440.8,555.8 445.0,546.0 C449.2,536.2 450.8,533.3 455.0,524.0 C459.2,514.7 464.2,500.3 470.0,490.0 C475.8,479.7 485.0,468.3 490.0,462.0 C495.0,455.7 496.7,455.7 500.0,452.0 C503.3,448.3 506.4,446.0 510.0,440.0 C513.6,434.0 518.4,424.5 521.7,416.0 C525.0,407.5 527.3,397.3 530.0,389.0 C532.7,380.7 535.2,373.3 538.0,366.0 C540.8,358.7 543.7,351.5 547.0,345.0 C550.3,338.5 554.8,330.8 558.0,327.0 C561.2,323.2 562.8,323.0 566.0,322.0 C569.2,321.0 573.3,321.4 577.0,321.0 C580.7,320.6 584.8,319.8 588.0,319.5 C591.2,319.2 593.8,318.6 596.0,319.0 C598.2,319.4 599.5,320.2 601.0,322.0 C602.5,323.8 603.8,325.7 605.0,330.0 C606.2,334.3 607.5,340.8 608.5,348.0 C609.5,355.2 610.1,365.3 611.0,373.0 C611.9,380.7 613.0,385.7 614.0,394.0 C615.0,402.3 616.0,412.5 617.0,423.0 C618.0,433.5 619.2,443.3 620.0,457.0 C620.8,470.7 620.5,486.2 621.5,505.0 C622.5,523.8 624.8,551.2 626.0,570.0 C627.2,588.8 627.2,603.0 628.5,618.0 C629.8,633.0 631.6,647.8 633.5,660.0 C635.4,672.2 637.6,683.2 640.0,691.0 C642.4,698.8 644.3,703.8 648.0,707.0 C651.7,710.2 659.7,709.5 662.0,710.0" fill="none" stroke="#231f20" stroke-width="6.5" stroke-linejoin="round"/>
<rect x="0" y="724.0" width="700" height="12" fill="#fff"/>
<rect x="664.0" y="600" width="20" height="130" fill="#fff"/>
<rect x="0" y="600" width="8.5" height="130" fill="#fff"/>
<rect x="10.0" y="230.8" width="652.5" height="491.7" fill="none" stroke="#231f20" stroke-width="3"/>
<path d="M10.0,483.6 H347.2 V722.5" fill="none" stroke="#231f20" stroke-width="2.2"/>
<line x1="10.13" y1="230.80" x2="10.13" y2="237.30" stroke="#231f20" stroke-width="3" />
<line x1="10.13" y1="722.50" x2="10.13" y2="730.50" stroke="#231f20" stroke-width="3" />
<line x1="32.60" y1="230.80" x2="32.60" y2="242.80" stroke="#231f20" stroke-width="3" />
<line x1="32.60" y1="722.50" x2="32.60" y2="736.00" stroke="#231f20" stroke-width="3" />
<line x1="55.07" y1="230.80" x2="55.07" y2="237.30" stroke="#231f20" stroke-width="3" />
<line x1="55.07" y1="722.50" x2="55.07" y2="730.50" stroke="#231f20" stroke-width="3" />
<line x1="77.54" y1="230.80" x2="77.54" y2="237.30" stroke="#231f20" stroke-width="3" />
<line x1="77.54" y1="722.50" x2="77.54" y2="730.50" stroke="#231f20" stroke-width="3" />
<line x1="100.01" y1="230.80" x2="100.01" y2="237.30" stroke="#231f20" stroke-width="3" />
<line x1="100.01" y1="722.50" x2="100.01" y2="730.50" stroke="#231f20" stroke-width="3" />
<line x1="122.48" y1="230.80" x2="122.48" y2="237.30" stroke="#231f20" stroke-width="3" />
<line x1="122.48" y1="722.50" x2="122.48" y2="730.50" stroke="#231f20" stroke-width="3" />
<line x1="144.95" y1="230.80" x2="144.95" y2="242.80" stroke="#231f20" stroke-width="3" />
<line x1="144.95" y1="722.50" x2="144.95" y2="736.00" stroke="#231f20" stroke-width="3" />
<line x1="167.42" y1="230.80" x2="167.42" y2="237.30" stroke="#231f20" stroke-width="3" />
<line x1="167.42" y1="722.50" x2="167.42" y2="730.50" stroke="#231f20" stroke-width="3" />
<line x1="189.89" y1="230.80" x2="189.89" y2="237.30" stroke="#231f20" stroke-width="3" />
<line x1="189.89" y1="722.50" x2="189.89" y2="730.50" stroke="#231f20" stroke-width="3" />
<line x1="212.36" y1="230.80" x2="212.36" y2="237.30" stroke="#231f20" stroke-width="3" />
<line x1="212.36" y1="722.50" x2="212.36" y2="730.50" stroke="#231f20" stroke-width="3" />
<line x1="234.83" y1="230.80" x2="234.83" y2="237.30" stroke="#231f20" stroke-width="3" />
<line x1="234.83" y1="722.50" x2="234.83" y2="730.50" stroke="#231f20" stroke-width="3" />
<line x1="257.30" y1="230.80" x2="257.30" y2="242.80" stroke="#231f20" stroke-width="3" />
<line x1="257.30" y1="722.50" x2="257.30" y2="736.00" stroke="#231f20" stroke-width="3" />
<line x1="279.77" y1="230.80" x2="279.77" y2="237.30" stroke="#231f20" stroke-width="3" />
<line x1="279.77" y1="722.50" x2="279.77" y2="730.50" stroke="#231f20" stroke-width="3" />
<line x1="302.24" y1="230.80" x2="302.24" y2="237.30" stroke="#231f20" stroke-width="3" />
<line x1="302.24" y1="722.50" x2="302.24" y2="730.50" stroke="#231f20" stroke-width="3" />
<line x1="324.71" y1="230.80" x2="324.71" y2="237.30" stroke="#231f20" stroke-width="3" />
<line x1="324.71" y1="722.50" x2="324.71" y2="730.50" stroke="#231f20" stroke-width="3" />
<line x1="347.18" y1="230.80" x2="347.18" y2="237.30" stroke="#231f20" stroke-width="3" />
<line x1="347.18" y1="722.50" x2="347.18" y2="730.50" stroke="#231f20" stroke-width="3" />
<line x1="369.65" y1="230.80" x2="369.65" y2="242.80" stroke="#231f20" stroke-width="3" />
<line x1="369.65" y1="722.50" x2="369.65" y2="736.00" stroke="#231f20" stroke-width="3" />
<line x1="392.12" y1="230.80" x2="392.12" y2="237.30" stroke="#231f20" stroke-width="3" />
<line x1="392.12" y1="722.50" x2="392.12" y2="730.50" stroke="#231f20" stroke-width="3" />
<line x1="414.59" y1="230.80" x2="414.59" y2="237.30" stroke="#231f20" stroke-width="3" />
<line x1="414.59" y1="722.50" x2="414.59" y2="730.50" stroke="#231f20" stroke-width="3" />
<line x1="437.06" y1="230.80" x2="437.06" y2="237.30" stroke="#231f20" stroke-width="3" />
<line x1="437.06" y1="722.50" x2="437.06" y2="730.50" stroke="#231f20" stroke-width="3" />
<line x1="459.53" y1="230.80" x2="459.53" y2="237.30" stroke="#231f20" stroke-width="3" />
<line x1="459.53" y1="722.50" x2="459.53" y2="730.50" stroke="#231f20" stroke-width="3" />
<line x1="482.00" y1="230.80" x2="482.00" y2="242.80" stroke="#231f20" stroke-width="3" />
<line x1="482.00" y1="722.50" x2="482.00" y2="736.00" stroke="#231f20" stroke-width="3" />
<line x1="504.47" y1="230.80" x2="504.47" y2="237.30" stroke="#231f20" stroke-width="3" />
<line x1="504.47" y1="722.50" x2="504.47" y2="730.50" stroke="#231f20" stroke-width="3" />
<line x1="526.94" y1="230.80" x2="526.94" y2="237.30" stroke="#231f20" stroke-width="3" />
<line x1="526.94" y1="722.50" x2="526.94" y2="730.50" stroke="#231f20" stroke-width="3" />
<line x1="549.41" y1="230.80" x2="549.41" y2="237.30" stroke="#231f20" stroke-width="3" />
<line x1="549.41" y1="722.50" x2="549.41" y2="730.50" stroke="#231f20" stroke-width="3" />
<line x1="571.88" y1="230.80" x2="571.88" y2="237.30" stroke="#231f20" stroke-width="3" />
<line x1="571.88" y1="722.50" x2="571.88" y2="730.50" stroke="#231f20" stroke-width="3" />
<line x1="594.35" y1="230.80" x2="594.35" y2="242.80" stroke="#231f20" stroke-width="3" />
<line x1="594.35" y1="722.50" x2="594.35" y2="736.00" stroke="#231f20" stroke-width="3" />
<line x1="616.82" y1="230.80" x2="616.82" y2="237.30" stroke="#231f20" stroke-width="3" />
<line x1="616.82" y1="722.50" x2="616.82" y2="730.50" stroke="#231f20" stroke-width="3" />
<line x1="639.29" y1="230.80" x2="639.29" y2="237.30" stroke="#231f20" stroke-width="3" />
<line x1="639.29" y1="722.50" x2="639.29" y2="730.50" stroke="#231f20" stroke-width="3" />
<line x1="661.76" y1="230.80" x2="661.76" y2="237.30" stroke="#231f20" stroke-width="3" />
<line x1="661.76" y1="722.50" x2="661.76" y2="730.50" stroke="#231f20" stroke-width="3" />
<text x="-1.48" y="775.00" font-family='"Liberation Sans",sans-serif' font-weight="normal" font-size="40.57" textLength="67.70" lengthAdjust="spacingAndGlyphs" fill="#231f20">735</text>
<text x="110.82" y="775.00" font-family='"Liberation Sans",sans-serif' font-weight="normal" font-size="40.57" textLength="67.70" lengthAdjust="spacingAndGlyphs" fill="#231f20">730</text>
<text x="223.22" y="775.00" font-family='"Liberation Sans",sans-serif' font-weight="normal" font-size="40.57" textLength="67.70" lengthAdjust="spacingAndGlyphs" fill="#231f20">725</text>
<text x="335.52" y="775.00" font-family='"Liberation Sans",sans-serif' font-weight="normal" font-size="40.57" textLength="67.70" lengthAdjust="spacingAndGlyphs" fill="#231f20">720</text>
<text x="447.42" y="775.00" font-family='"Liberation Sans",sans-serif' font-weight="normal" font-size="41.16" textLength="68.68" lengthAdjust="spacingAndGlyphs" fill="#231f20">715</text>
<text x="560.22" y="775.00" font-family='"Liberation Sans",sans-serif' font-weight="normal" font-size="40.57" textLength="67.70" lengthAdjust="spacingAndGlyphs" fill="#231f20">710</text>
<text x="152.75" y="822.30" font-family='"Liberation Sans",sans-serif' font-weight="normal" font-size="44.51" textLength="380.29" lengthAdjust="spacingAndGlyphs" fill="#231f20">Binding energy (eV)</text>
<line x1="236.50" y1="485.00" x2="236.50" y2="722.50" stroke="#231f20" stroke-width="2.5" stroke-dasharray="6.5,7"/>
<line x1="292.50" y1="485.00" x2="292.50" y2="722.50" stroke="#231f20" stroke-width="2.5" stroke-dasharray="6.5,7"/>
<line x1="553.60" y1="232.50" x2="553.60" y2="722.50" stroke="#231f20" stroke-width="2.5" stroke-dasharray="6.5,7"/>
<line x1="594.30" y1="232.50" x2="594.30" y2="722.50" stroke="#231f20" stroke-width="2.5" stroke-dasharray="6.5,7"/>
<text x="209.44" y="470.00" font-family='"Liberation Sans",sans-serif' font-weight="bold" font-size="22.18" textLength="26.96" lengthAdjust="spacingAndGlyphs" fill="#231f20" stroke="#231f20" stroke-width="0.78" stroke-linejoin="round">Fe</text>
<text x="237.22" y="463.10" font-family='"Liberation Sans",sans-serif' font-weight="bold" font-size="16.06" textLength="7.04" lengthAdjust="spacingAndGlyphs" fill="#231f20" stroke="#231f20" stroke-width="0.56" stroke-linejoin="round">3</text>
<text x="243.40" y="462.00" font-family='"Liberation Sans",sans-serif' font-weight="bold" font-size="14.47" textLength="13.78" lengthAdjust="spacingAndGlyphs" fill="#231f20" stroke="#231f20" stroke-width="0.51" stroke-linejoin="round">+</text>
<text x="293.23" y="470.00" font-family='"Liberation Sans",sans-serif' font-weight="bold" font-size="22.18" textLength="26.30" lengthAdjust="spacingAndGlyphs" fill="#231f20" stroke="#231f20" stroke-width="0.78" stroke-linejoin="round">Fe</text>
<text x="319.43" y="463.10" font-family='"Liberation Sans",sans-serif' font-weight="bold" font-size="16.06" textLength="9.04" lengthAdjust="spacingAndGlyphs" fill="#231f20" stroke="#231f20" stroke-width="0.56" stroke-linejoin="round">2</text>
<text x="327.57" y="462.00" font-family='"Liberation Sans",sans-serif' font-weight="bold" font-size="14.47" textLength="12.73" lengthAdjust="spacingAndGlyphs" fill="#231f20" stroke="#231f20" stroke-width="0.51" stroke-linejoin="round">+</text>
<text x="504.05" y="221.80" font-family='"Liberation Sans",sans-serif' font-weight="bold" font-size="22.25" textLength="26.85" lengthAdjust="spacingAndGlyphs" fill="#231f20" stroke="#231f20" stroke-width="0.78" stroke-linejoin="round">Fe</text>
<text x="530.77" y="214.80" font-family='"Liberation Sans",sans-serif' font-weight="bold" font-size="13.48" textLength="8.27" lengthAdjust="spacingAndGlyphs" fill="#231f20" stroke="#231f20" stroke-width="0.47" stroke-linejoin="round">3</text>
<text x="538.61" y="213.80" font-family='"Liberation Sans",sans-serif' font-weight="bold" font-size="11.57" textLength="12.26" lengthAdjust="spacingAndGlyphs" fill="#231f20" stroke="#231f20" stroke-width="0.41" stroke-linejoin="round">+</text>
<text x="585.48" y="221.80" font-family='"Liberation Sans",sans-serif' font-weight="bold" font-size="21.96" textLength="26.30" lengthAdjust="spacingAndGlyphs" fill="#231f20" stroke="#231f20" stroke-width="0.77" stroke-linejoin="round">Fe</text>
<text x="612.03" y="214.50" font-family='"Liberation Sans",sans-serif' font-weight="bold" font-size="13.48" textLength="9.04" lengthAdjust="spacingAndGlyphs" fill="#231f20" stroke="#231f20" stroke-width="0.47" stroke-linejoin="round">2</text>
<text x="620.62" y="213.50" font-family='"Liberation Sans",sans-serif' font-weight="bold" font-size="11.57" textLength="12.15" lengthAdjust="spacingAndGlyphs" fill="#231f20" stroke="#231f20" stroke-width="0.41" stroke-linejoin="round">+</text>
<rect x="551" y="209.6" width="6" height="11.4" fill="#231f20"/>
<rect x="551" y="199" width="6" height="10.6" fill="#8b8c8e"/>
<polygon points="544,198.6 563.8,198.6 553.9,179.9" fill="#333"/>
<rect x="591" y="260.8" width="6.5" height="9.2" fill="#231f20"/>
<rect x="591" y="270" width="6.5" height="13" fill="#8b8c8e"/>
<polygon points="584.5,282.6 604,282.6 594.3,301" fill="#333"/>
<text x="30.26" y="274.00" font-family='"Liberation Sans",sans-serif' font-weight="bold" font-size="32.00" textLength="82.87" lengthAdjust="spacingAndGlyphs" fill="#231f20" stroke="#231f20" stroke-width="1.12" stroke-linejoin="round">Fe 2p</text>
<text x="71.68" y="390.30" font-family='"Liberation Serif",serif' font-weight="bold" font-size="37.02" textLength="28.70" lengthAdjust="spacingAndGlyphs" fill="#231f20">a)</text>
<text x="290.79" y="270.20" font-family='"Liberation Sans",sans-serif' font-weight="bold" font-size="31.25" textLength="57.52" lengthAdjust="spacingAndGlyphs" fill="#231f20" stroke="#231f20" stroke-width="1.09" stroke-linejoin="round">200</text>
<text x="348.02" y="260.80" font-family='"Liberation Sans",sans-serif' font-weight="bold" font-size="20.00" textLength="21.37" lengthAdjust="spacingAndGlyphs" fill="#231f20" stroke="#231f20" stroke-width="0.70" stroke-linejoin="round">th</text>
<text x="377.78" y="270.20" font-family='"Liberation Sans",sans-serif' font-weight="bold" font-size="30.07" textLength="76.21" lengthAdjust="spacingAndGlyphs" fill="#231f20" stroke="#231f20" stroke-width="1.05" stroke-linejoin="round">cycle</text>
<text x="335.05" y="306.10" font-family='"Liberation Sans",sans-serif' font-weight="bold" font-size="31.25" textLength="74.34" lengthAdjust="spacingAndGlyphs" fill="#231f20" stroke="#231f20" stroke-width="1.09" stroke-linejoin="round">60°C</text>
<text x="325.09" y="351.00" font-family='"Liberation Sans",sans-serif' font-weight="bold" font-size="31.25" textLength="57.52" lengthAdjust="spacingAndGlyphs" fill="#8b8c8e" stroke="#8b8c8e" stroke-width="1.09" stroke-linejoin="round">200</text>
<text x="382.32" y="341.60" font-family='"Liberation Sans",sans-serif' font-weight="bold" font-size="20.00" textLength="21.37" lengthAdjust="spacingAndGlyphs" fill="#8b8c8e" stroke="#8b8c8e" stroke-width="0.70" stroke-linejoin="round">th</text>
<text x="412.08" y="351.00" font-family='"Liberation Sans",sans-serif' font-weight="bold" font-size="30.07" textLength="76.21" lengthAdjust="spacingAndGlyphs" fill="#8b8c8e" stroke="#8b8c8e" stroke-width="1.05" stroke-linejoin="round">cycle</text>
<text x="385.55" y="387.00" font-family='"Liberation Sans",sans-serif' font-weight="bold" font-size="28.65" textLength="40.58" lengthAdjust="spacingAndGlyphs" fill="#8b8c8e" stroke="#8b8c8e" stroke-width="1.00" stroke-linejoin="round">RT</text>
<text x="287.46" y="431.00" font-family='"Liberation Sans",sans-serif' font-weight="bold" font-size="29.09" textLength="16.39" lengthAdjust="spacingAndGlyphs" fill="#231f20" stroke="#231f20" stroke-width="1.02" stroke-linejoin="round">1</text>
<text x="305.88" y="422.00" font-family='"Liberation Sans",sans-serif' font-weight="bold" font-size="19.92" textLength="18.42" lengthAdjust="spacingAndGlyphs" fill="#231f20" stroke="#231f20" stroke-width="0.70" stroke-linejoin="round">st</text>
<text x="333.69" y="431.00" font-family='"Liberation Sans",sans-serif' font-weight="bold" font-size="30.07" textLength="75.80" lengthAdjust="spacingAndGlyphs" fill="#231f20" stroke="#231f20" stroke-width="1.05" stroke-linejoin="round">cycle</text>
<line x1="420.70" y1="295.80" x2="520.00" y2="295.80" stroke="#231f20" stroke-width="2.2" />
<polygon points="519,290.8 529,295.8 519,300.8" fill="#231f20"/>
<line x1="426.00" y1="378.20" x2="502.50" y2="378.20" stroke="#8b8c8e" stroke-width="2.2" />
<polygon points="501.5,373.2 511.5,378.2 501.5,383.2" fill="#8b8c8e"/>
<line x1="424.00" y1="420.20" x2="510.00" y2="420.20" stroke="#231f20" stroke-width="2.2" />
<polygon points="509,415.2 519,420.2 509,425.2" fill="#231f20"/>
<path d="M87,724 V861.5 H896.7 V838" fill="none" stroke="#231f20" stroke-width="3.6"/>
<polygon points="891.2,840 902.5,840 896.8,828" fill="#231f20"/>
<path d="M737.0,251.0 C740.8,249.7 751.2,247.0 760.0,243.0 C768.8,239.0 783.3,230.2 790.0,227.0 C796.7,223.8 795.8,224.6 800.0,224.0 C804.2,223.4 810.0,224.3 815.0,223.6 C820.0,222.9 825.0,223.3 830.0,220.0 C835.0,216.7 840.0,209.0 845.0,204.0 C850.0,199.0 854.2,194.8 860.0,190.0 C865.8,185.2 873.3,179.4 880.0,175.0 C886.7,170.6 894.2,166.8 900.0,163.6 C905.8,160.3 910.0,159.0 915.0,155.5 C920.0,152.0 925.0,147.7 930.0,142.6 C935.0,137.5 940.8,131.8 945.0,124.8 C949.2,117.8 951.7,108.9 955.0,100.5 C958.3,92.1 962.3,80.7 965.0,74.5 C967.7,68.3 968.8,64.0 971.0,63.2 C973.2,62.4 975.2,62.4 978.0,69.7 C980.8,77.0 985.2,93.8 988.0,107.0 C990.8,120.2 992.7,133.3 995.0,149.0 C997.3,164.7 999.5,185.8 1002.0,201.0 C1004.5,216.2 1007.0,230.3 1010.0,240.0 C1013.0,249.7 1016.7,254.7 1020.0,259.0 C1023.3,263.3 1027.2,264.7 1030.0,266.0 C1032.8,267.3 1035.8,266.8 1037.0,267.0 L1037,268.0 L737,268.0 Z" fill="url(#hl)"/>
<path d="M737.0,251.0 C740.8,249.7 751.2,247.0 760.0,243.0 C768.8,239.0 783.3,230.2 790.0,227.0 C796.7,223.8 795.8,224.6 800.0,224.0 C804.2,223.4 810.0,224.3 815.0,223.6 C820.0,222.9 825.0,223.3 830.0,220.0 C835.0,216.7 840.0,209.0 845.0,204.0 C850.0,199.0 854.2,194.8 860.0,190.0 C865.8,185.2 873.3,179.4 880.0,175.0 C886.7,170.6 894.2,166.8 900.0,163.6 C905.8,160.3 910.0,159.0 915.0,155.5 C920.0,152.0 925.0,147.7 930.0,142.6 C935.0,137.5 940.8,131.8 945.0,124.8 C949.2,117.8 951.7,108.9 955.0,100.5 C958.3,92.1 962.3,80.7 965.0,74.5 C967.7,68.3 968.8,64.0 971.0,63.2 C973.2,62.4 975.2,62.4 978.0,69.7 C980.8,77.0 985.2,93.8 988.0,107.0 C990.8,120.2 992.7,133.3 995.0,149.0 C997.3,164.7 999.5,185.8 1002.0,201.0 C1004.5,216.2 1007.0,230.3 1010.0,240.0 C1013.0,249.7 1016.7,254.7 1020.0,259.0 C1023.3,263.3 1027.2,264.7 1030.0,266.0 C1032.8,267.3 1035.8,266.8 1037.0,267.0" fill="none" stroke="#231f20" stroke-width="1.8"/>
<g fill="#231f20"><circle cx="740.0" cy="241.4" r="1.6"/><circle cx="742.2" cy="251.8" r="1.6"/><circle cx="744.7" cy="251.7" r="1.6"/><circle cx="747.5" cy="253.0" r="1.6"/><circle cx="750.4" cy="249.2" r="1.6"/><circle cx="751.9" cy="263.8" r="1.6"/><circle cx="754.4" cy="242.9" r="1.6"/><circle cx="755.8" cy="242.1" r="1.6"/><circle cx="757.6" cy="228.7" r="1.6"/><circle cx="760.5" cy="244.4" r="1.6"/><circle cx="763.1" cy="231.0" r="1.6"/><circle cx="765.0" cy="240.4" r="1.6"/><circle cx="768.2" cy="244.5" r="1.6"/><circle cx="770.0" cy="228.4" r="1.6"/><circle cx="771.5" cy="237.6" r="1.6"/><circle cx="773.6" cy="228.7" r="1.6"/><circle cx="776.5" cy="239.0" r="1.6"/><circle cx="778.8" cy="233.0" r="1.6"/><circle cx="780.9" cy="240.7" r="1.6"/><circle cx="782.8" cy="217.3" r="1.6"/><circle cx="785.6" cy="245.2" r="1.6"/><circle cx="787.0" cy="231.8" r="1.6"/><circle cx="788.7" cy="220.6" r="1.6"/><circle cx="791.5" cy="219.5" r="1.6"/><circle cx="793.6" cy="223.2" r="1.6"/><circle cx="795.5" cy="237.8" r="1.6"/><circle cx="798.5" cy="222.2" r="1.6"/><circle cx="800.6" cy="214.2" r="1.6"/><circle cx="803.8" cy="225.1" r="1.6"/><circle cx="805.8" cy="229.1" r="1.6"/><circle cx="807.3" cy="231.6" r="1.6"/><circle cx="809.8" cy="228.7" r="1.6"/><circle cx="812.0" cy="231.5" r="1.6"/><circle cx="815.0" cy="221.6" r="1.6"/><circle cx="816.7" cy="234.0" r="1.6"/><circle cx="818.4" cy="215.8" r="1.6"/><circle cx="821.5" cy="227.7" r="1.6"/><circle cx="824.0" cy="237.6" r="1.6"/><circle cx="825.6" cy="238.5" r="1.6"/><circle cx="828.2" cy="224.7" r="1.6"/><circle cx="831.1" cy="214.0" r="1.6"/><circle cx="833.8" cy="215.0" r="1.6"/><circle cx="836.8" cy="221.6" r="1.6"/><circle cx="838.7" cy="210.2" r="1.6"/><circle cx="840.6" cy="206.4" r="1.6"/><circle cx="842.6" cy="207.4" r="1.6"/><circle cx="844.2" cy="195.3" r="1.6"/><circle cx="846.8" cy="213.5" r="1.6"/><circle cx="849.3" cy="204.1" r="1.6"/><circle cx="852.3" cy="157.5" r="1.6"/><circle cx="854.9" cy="183.5" r="1.6"/><circle cx="858.1" cy="171.1" r="1.6"/><circle cx="861.1" cy="185.9" r="1.6"/><circle cx="863.8" cy="191.3" r="1.6"/><circle cx="866.5" cy="170.2" r="1.6"/><circle cx="869.4" cy="172.2" r="1.6"/><circle cx="871.9" cy="187.3" r="1.6"/><circle cx="874.0" cy="161.7" r="1.6"/><circle cx="876.5" cy="192.0" r="1.6"/><circle cx="878.6" cy="175.4" r="1.6"/><circle cx="881.1" cy="171.7" r="1.6"/><circle cx="883.8" cy="182.2" r="1.6"/><circle cx="885.6" cy="173.6" r="1.6"/><circle cx="887.9" cy="158.6" r="1.6"/><circle cx="889.3" cy="159.3" r="1.6"/><circle cx="891.9" cy="169.4" r="1.6"/><circle cx="894.5" cy="170.8" r="1.6"/><circle cx="897.6" cy="160.2" r="1.6"/><circle cx="899.7" cy="172.9" r="1.6"/><circle cx="902.8" cy="167.1" r="1.6"/><circle cx="904.8" cy="129.7" r="1.6"/><circle cx="907.7" cy="159.7" r="1.6"/><circle cx="910.8" cy="157.0" r="1.6"/><circle cx="912.7" cy="160.9" r="1.6"/><circle cx="914.9" cy="149.8" r="1.6"/><circle cx="917.8" cy="147.3" r="1.6"/><circle cx="920.0" cy="152.8" r="1.6"/><circle cx="921.4" cy="150.8" r="1.6"/><circle cx="923.9" cy="166.5" r="1.6"/><circle cx="925.5" cy="145.0" r="1.6"/><circle cx="927.3" cy="164.2" r="1.6"/><circle cx="929.5" cy="145.9" r="1.6"/><circle cx="932.1" cy="146.3" r="1.6"/><circle cx="933.9" cy="121.5" r="1.6"/><circle cx="935.6" cy="143.9" r="1.6"/><circle cx="937.3" cy="134.5" r="1.6"/><circle cx="939.3" cy="128.8" r="1.6"/><circle cx="942.1" cy="120.3" r="1.6"/><circle cx="944.9" cy="127.4" r="1.6"/><circle cx="947.6" cy="98.0" r="1.6"/><circle cx="950.7" cy="113.9" r="1.6"/><circle cx="953.1" cy="114.2" r="1.6"/><circle cx="955.3" cy="91.1" r="1.6"/><circle cx="957.1" cy="92.8" r="1.6"/><circle cx="959.8" cy="75.3" r="1.6"/><circle cx="962.8" cy="99.3" r="1.6"/><circle cx="965.7" cy="70.9" r="1.6"/><circle cx="968.7" cy="61.3" r="1.6"/><circle cx="970.9" cy="52.0" r="1.6"/><circle cx="972.3" cy="60.7" r="1.6"/><circle cx="973.8" cy="67.2" r="1.6"/><circle cx="976.7" cy="74.4" r="1.6"/><circle cx="979.4" cy="81.6" r="1.6"/><circle cx="982.0" cy="92.4" r="1.6"/><circle cx="983.6" cy="87.7" r="1.6"/><circle cx="985.9" cy="96.4" r="1.6"/><circle cx="988.2" cy="119.4" r="1.6"/><circle cx="990.7" cy="120.4" r="1.6"/><circle cx="993.7" cy="147.5" r="1.6"/><circle cx="996.6" cy="169.5" r="1.6"/><circle cx="998.4" cy="172.5" r="1.6"/><circle cx="1000.7" cy="190.0" r="1.6"/><circle cx="1003.0" cy="205.0" r="1.6"/><circle cx="1005.9" cy="212.4" r="1.6"/><circle cx="1007.4" cy="224.1" r="1.6"/><circle cx="1009.5" cy="253.0" r="1.6"/><circle cx="1011.8" cy="215.6" r="1.6"/><circle cx="1014.8" cy="254.3" r="1.6"/><circle cx="1016.8" cy="256.4" r="1.6"/><circle cx="1018.4" cy="265.0" r="1.6"/><circle cx="1019.8" cy="260.4" r="1.6"/><circle cx="1021.8" cy="265.0" r="1.6"/><circle cx="1024.3" cy="266.0" r="1.6"/><circle cx="1026.6" cy="263.6" r="1.6"/><circle cx="1028.8" cy="266.0" r="1.6"/></g>
<path d="M737.0,500.0 C742.5,497.3 759.5,487.8 770.0,484.0 C780.5,480.2 790.0,477.7 800.0,477.0 C810.0,476.3 820.0,483.8 830.0,480.0 C840.0,476.2 850.0,463.2 860.0,454.0 C870.0,444.8 882.5,430.8 890.0,425.0 C897.5,419.2 899.2,422.7 905.0,419.0 C910.8,415.3 918.3,408.5 925.0,403.0 C931.7,397.5 939.2,394.7 945.0,386.0 C950.8,377.3 955.8,363.3 960.0,351.0 C964.2,338.7 967.0,316.8 970.0,312.0 C973.0,307.2 975.5,316.0 978.0,322.0 C980.5,328.0 982.2,334.0 985.0,348.0 C987.8,362.0 991.7,385.6 995.0,406.0 C998.3,426.4 1001.7,454.4 1005.0,470.6 C1008.3,486.8 1011.7,496.1 1015.0,503.0 C1018.3,509.9 1021.3,510.2 1025.0,512.0 C1028.7,513.8 1035.0,513.7 1037.0,514.0 L1037,515.6 L737,515.6 Z" fill="#e4e4e4"/>
<path d="M737.0,506.0 C742.5,503.3 759.5,493.8 770.0,490.0 C780.5,486.2 790.0,483.7 800.0,483.0 C810.0,482.3 820.0,489.8 830.0,486.0 C840.0,482.2 850.0,469.2 860.0,460.0 C870.0,450.8 882.5,436.8 890.0,431.0 C897.5,425.2 899.2,428.7 905.0,425.0 C910.8,421.3 918.3,414.5 925.0,409.0 C931.7,403.5 939.2,400.7 945.0,392.0 C950.8,383.3 955.8,369.3 960.0,357.0 C964.2,344.7 967.0,322.8 970.0,318.0 C973.0,313.2 975.5,322.0 978.0,328.0 C980.5,334.0 982.2,340.0 985.0,354.0 C987.8,368.0 991.7,391.6 995.0,412.0 C998.3,432.4 1001.7,460.4 1005.0,476.6 C1008.3,492.8 1011.7,502.5 1015.0,509.0 C1018.3,515.5 1021.3,514.5 1025.0,515.6 C1028.7,516.7 1035.0,515.6 1037.0,515.6 L1037,515.6 L737,515.6 Z" fill="url(#hl)"/>
<path d="M737.0,511.0 C740.8,510.5 752.8,509.0 760.0,508.0 C767.2,507.0 771.7,504.8 780.0,505.0 C788.3,505.2 800.0,508.8 810.0,509.5 C820.0,510.2 831.7,510.9 840.0,509.5 C848.3,508.1 853.3,503.3 860.0,501.4 C866.7,499.5 873.3,501.0 880.0,498.0 C886.7,495.0 894.2,488.7 900.0,483.6 C905.8,478.5 910.8,470.9 915.0,467.4 C919.2,463.9 920.8,463.1 925.0,462.5 C929.2,461.9 935.8,461.1 940.0,464.0 C944.2,466.9 946.7,473.5 950.0,480.0 C953.3,486.5 955.8,497.6 960.0,503.0 C964.2,508.4 970.0,510.8 975.0,512.7 C980.0,514.6 979.7,514.3 990.0,514.6 C1000.3,514.9 1029.2,514.6 1037.0,514.6 L1037,515.6 L737,515.6 Z" fill="url(#hd)"/>
<path d="M737.0,498.0 C740.8,495.7 752.8,488.0 760.0,484.0 C767.2,480.0 773.3,476.2 780.0,474.0 C786.7,471.8 794.2,470.4 800.0,470.6 C805.8,470.9 810.0,474.4 815.0,475.5 C820.0,476.6 824.0,479.9 830.0,477.0 C836.0,474.1 844.8,465.0 851.0,458.0 C857.2,451.0 861.5,441.8 867.0,435.0 C872.5,428.2 878.5,424.0 884.0,417.0 C889.5,410.0 895.7,399.5 900.0,393.0 C904.3,386.5 906.7,384.3 910.0,378.0 C913.3,371.7 916.7,361.7 920.0,355.0 C923.3,348.3 925.8,341.4 930.0,338.0 C934.2,334.6 940.8,335.7 945.0,334.5 C949.2,333.3 952.2,333.8 955.0,331.0 C957.8,328.2 959.5,321.8 962.0,318.0 C964.5,314.2 967.3,308.0 970.0,308.0 C972.7,308.0 975.5,311.4 978.0,318.0 C980.5,324.6 982.2,332.8 985.0,347.5 C987.8,362.2 991.7,385.5 995.0,406.0 C998.3,426.5 1001.7,454.4 1005.0,470.6 C1008.3,486.8 1011.7,496.1 1015.0,503.0 C1018.3,509.9 1021.3,510.2 1025.0,512.0 C1028.7,513.8 1035.0,513.7 1037.0,514.0" fill="none" stroke="#231f20" stroke-width="1.8"/>
<g fill="#231f20"><circle cx="740.0" cy="489.7" r="1.6"/><circle cx="741.6" cy="491.1" r="1.6"/><circle cx="744.5" cy="496.0" r="1.6"/><circle cx="747.0" cy="481.0" r="1.6"/><circle cx="749.2" cy="512.4" r="1.6"/><circle cx="752.1" cy="494.9" r="1.6"/><circle cx="754.2" cy="490.6" r="1.6"/><circle cx="755.6" cy="495.9" r="1.6"/><circle cx="757.2" cy="489.5" r="1.6"/><circle cx="760.3" cy="493.6" r="1.6"/><circle cx="762.2" cy="480.9" r="1.6"/><circle cx="763.7" cy="480.3" r="1.6"/><circle cx="766.6" cy="476.9" r="1.6"/><circle cx="768.9" cy="482.3" r="1.6"/><circle cx="770.3" cy="477.1" r="1.6"/><circle cx="772.9" cy="465.9" r="1.6"/><circle cx="774.9" cy="461.5" r="1.6"/><circle cx="776.7" cy="472.1" r="1.6"/><circle cx="779.0" cy="482.8" r="1.6"/><circle cx="781.4" cy="469.5" r="1.6"/><circle cx="783.6" cy="477.5" r="1.6"/><circle cx="785.9" cy="488.5" r="1.6"/><circle cx="787.8" cy="479.7" r="1.6"/><circle cx="790.1" cy="473.2" r="1.6"/><circle cx="793.2" cy="475.3" r="1.6"/><circle cx="796.3" cy="476.3" r="1.6"/><circle cx="798.1" cy="479.8" r="1.6"/><circle cx="801.1" cy="474.5" r="1.6"/><circle cx="803.1" cy="471.8" r="1.6"/><circle cx="804.5" cy="478.1" r="1.6"/><circle cx="807.7" cy="474.7" r="1.6"/><circle cx="809.2" cy="470.1" r="1.6"/><circle cx="811.7" cy="481.5" r="1.6"/><circle cx="814.1" cy="468.9" r="1.6"/><circle cx="817.2" cy="476.6" r="1.6"/><circle cx="818.9" cy="473.5" r="1.6"/><circle cx="822.0" cy="485.0" r="1.6"/><circle cx="824.7" cy="475.6" r="1.6"/><circle cx="826.5" cy="473.7" r="1.6"/><circle cx="829.2" cy="483.3" r="1.6"/><circle cx="831.0" cy="483.0" r="1.6"/><circle cx="834.2" cy="467.4" r="1.6"/><circle cx="837.3" cy="468.1" r="1.6"/><circle cx="839.5" cy="460.2" r="1.6"/><circle cx="841.9" cy="461.1" r="1.6"/><circle cx="844.0" cy="452.3" r="1.6"/><circle cx="846.7" cy="468.5" r="1.6"/><circle cx="849.7" cy="454.6" r="1.6"/><circle cx="852.5" cy="454.3" r="1.6"/><circle cx="854.5" cy="454.4" r="1.6"/><circle cx="857.1" cy="439.9" r="1.6"/><circle cx="859.5" cy="444.4" r="1.6"/><circle cx="861.6" cy="438.4" r="1.6"/><circle cx="864.3" cy="440.1" r="1.6"/><circle cx="866.9" cy="436.6" r="1.6"/><circle cx="869.5" cy="432.8" r="1.6"/><circle cx="871.8" cy="427.3" r="1.6"/><circle cx="873.8" cy="428.8" r="1.6"/><circle cx="875.8" cy="426.2" r="1.6"/><circle cx="877.7" cy="423.5" r="1.6"/><circle cx="879.9" cy="423.2" r="1.6"/><circle cx="882.5" cy="428.5" r="1.6"/><circle cx="884.8" cy="409.1" r="1.6"/><circle cx="887.0" cy="407.1" r="1.6"/><circle cx="889.9" cy="408.9" r="1.6"/><circle cx="892.0" cy="410.5" r="1.6"/><circle cx="894.6" cy="406.7" r="1.6"/><circle cx="896.6" cy="397.1" r="1.6"/><circle cx="898.6" cy="390.8" r="1.6"/><circle cx="900.2" cy="392.6" r="1.6"/><circle cx="902.6" cy="389.0" r="1.6"/><circle cx="904.5" cy="387.6" r="1.6"/><circle cx="907.0" cy="375.5" r="1.6"/><circle cx="909.0" cy="374.4" r="1.6"/><circle cx="911.5" cy="367.9" r="1.6"/><circle cx="913.6" cy="367.1" r="1.6"/><circle cx="915.7" cy="362.5" r="1.6"/><circle cx="917.8" cy="361.0" r="1.6"/><circle cx="919.7" cy="353.2" r="1.6"/><circle cx="922.0" cy="359.7" r="1.6"/><circle cx="924.9" cy="349.5" r="1.6"/><circle cx="927.6" cy="341.2" r="1.6"/><circle cx="930.5" cy="340.2" r="1.6"/><circle cx="933.5" cy="342.2" r="1.6"/><circle cx="935.2" cy="340.5" r="1.6"/><circle cx="937.0" cy="342.5" r="1.6"/><circle cx="938.9" cy="330.5" r="1.6"/><circle cx="941.6" cy="330.5" r="1.6"/><circle cx="944.1" cy="333.6" r="1.6"/><circle cx="946.4" cy="330.7" r="1.6"/><circle cx="948.5" cy="329.5" r="1.6"/><circle cx="950.9" cy="331.7" r="1.6"/><circle cx="953.2" cy="328.1" r="1.6"/><circle cx="955.8" cy="336.1" r="1.6"/><circle cx="957.9" cy="323.7" r="1.6"/><circle cx="960.7" cy="317.7" r="1.6"/><circle cx="962.3" cy="320.5" r="1.6"/><circle cx="964.1" cy="320.5" r="1.6"/><circle cx="967.3" cy="315.9" r="1.6"/><circle cx="970.0" cy="309.1" r="1.6"/><circle cx="973.1" cy="311.6" r="1.6"/><circle cx="974.9" cy="314.3" r="1.6"/><circle cx="976.8" cy="311.8" r="1.6"/><circle cx="978.4" cy="310.9" r="1.6"/><circle cx="981.2" cy="324.4" r="1.6"/><circle cx="983.2" cy="336.9" r="1.6"/><circle cx="985.8" cy="363.4" r="1.6"/><circle cx="988.5" cy="373.4" r="1.6"/><circle cx="991.3" cy="382.1" r="1.6"/><circle cx="994.5" cy="406.9" r="1.6"/><circle cx="996.3" cy="410.2" r="1.6"/><circle cx="998.1" cy="421.9" r="1.6"/><circle cx="1000.6" cy="445.9" r="1.6"/><circle cx="1003.3" cy="463.8" r="1.6"/><circle cx="1005.5" cy="478.0" r="1.6"/><circle cx="1007.2" cy="482.0" r="1.6"/><circle cx="1009.6" cy="481.8" r="1.6"/><circle cx="1011.7" cy="490.2" r="1.6"/><circle cx="1013.7" cy="493.7" r="1.6"/><circle cx="1015.8" cy="503.6" r="1.6"/><circle cx="1017.8" cy="502.7" r="1.6"/><circle cx="1019.7" cy="510.3" r="1.6"/><circle cx="1022.3" cy="505.2" r="1.6"/><circle cx="1023.8" cy="514.0" r="1.6"/><circle cx="1025.4" cy="512.0" r="1.6"/><circle cx="1028.0" cy="514.0" r="1.6"/></g>
<path d="M737.0,750.0 C742.5,748.3 760.3,742.9 770.0,740.0 C779.7,737.1 785.8,733.8 795.0,732.5 C804.2,731.2 816.7,735.0 825.0,732.5 C833.3,730.0 837.5,722.9 845.0,717.5 C852.5,712.1 861.7,705.4 870.0,700.0 C878.3,694.6 886.7,689.6 895.0,685.0 C903.3,680.4 912.5,677.5 920.0,672.5 C927.5,667.5 934.2,661.7 940.0,655.0 C945.8,648.3 950.0,640.8 955.0,632.5 C960.0,624.2 965.8,608.3 970.0,605.0 C974.2,601.7 976.7,606.2 980.0,612.5 C983.3,618.8 987.1,631.2 990.0,642.5 C992.9,653.8 994.2,664.6 997.5,680.0 C1000.8,695.4 1006.2,722.1 1010.0,735.0 C1013.8,747.9 1015.5,753.0 1020.0,757.5 C1024.5,762.0 1034.2,761.2 1037.0,762.0 L1037,763.0 L737,763.0 Z" fill="#e4e4e4"/>
<path d="M737.0,756.0 C742.5,754.3 760.3,748.9 770.0,746.0 C779.7,743.1 785.8,739.8 795.0,738.5 C804.2,737.2 816.7,741.0 825.0,738.5 C833.3,736.0 837.5,728.9 845.0,723.5 C852.5,718.1 861.7,711.4 870.0,706.0 C878.3,700.6 886.7,695.6 895.0,691.0 C903.3,686.4 912.5,683.5 920.0,678.5 C927.5,673.5 934.2,667.7 940.0,661.0 C945.8,654.3 950.0,646.8 955.0,638.5 C960.0,630.2 965.8,614.3 970.0,611.0 C974.2,607.7 976.7,612.2 980.0,618.5 C983.3,624.8 987.1,637.2 990.0,648.5 C992.9,659.8 994.2,670.6 997.5,686.0 C1000.8,701.4 1006.2,728.2 1010.0,741.0 C1013.8,753.8 1015.5,759.3 1020.0,763.0 C1024.5,766.7 1034.2,763.0 1037.0,763.0 L1037,763.0 L737,763.0 Z" fill="url(#hl)"/>
<path d="M737.0,760.0 C740.3,759.6 749.5,758.8 757.0,757.5 C764.5,756.2 774.5,752.9 782.0,752.5 C789.5,752.1 791.5,753.8 802.0,755.0 C812.5,756.2 833.7,761.5 845.0,760.0 C856.3,758.5 861.7,750.3 870.0,746.0 C878.3,741.7 887.5,739.2 895.0,734.0 C902.5,728.8 909.2,720.7 915.0,715.0 C920.8,709.3 925.0,702.7 930.0,700.0 C935.0,697.3 940.8,697.3 945.0,699.0 C949.2,700.7 952.1,704.4 955.0,710.0 C957.9,715.6 960.0,725.8 962.5,732.5 C965.0,739.2 966.8,745.4 970.0,750.0 C973.2,754.6 977.0,758.0 982.0,760.0 C987.0,762.0 990.8,761.7 1000.0,762.0 C1009.2,762.3 1030.8,762.0 1037.0,762.0 L1037,763.0 L737,763.0 Z" fill="url(#hd)"/>
<path d="M737.0,747.5 C740.3,746.2 750.7,742.9 757.0,740.0 C763.3,737.1 769.5,732.7 775.0,730.0 C780.5,727.3 784.7,725.2 790.0,724.0 C795.3,722.8 800.8,721.9 807.0,722.5 C813.2,723.1 821.5,727.1 827.0,727.5 C832.5,727.9 835.3,727.9 840.0,725.0 C844.7,722.1 850.0,716.2 855.0,710.0 C860.0,703.8 864.2,694.7 870.0,688.0 C875.8,681.3 883.3,677.5 890.0,670.0 C896.7,662.5 905.0,650.8 910.0,643.0 C915.0,635.2 916.3,630.3 920.0,623.0 C923.7,615.7 928.3,604.5 932.0,599.0 C935.7,593.5 938.5,593.2 942.0,590.0 C945.5,586.8 949.2,580.4 953.0,580.0 C956.8,579.6 961.3,584.4 965.0,587.7 C968.7,591.0 971.7,592.3 975.0,599.6 C978.3,606.9 981.7,618.2 985.0,631.5 C988.3,644.8 991.7,664.0 995.0,679.3 C998.3,694.5 1001.7,711.7 1005.0,723.0 C1008.3,734.3 1011.7,741.2 1015.0,747.0 C1018.3,752.8 1021.3,755.7 1025.0,758.0 C1028.7,760.3 1035.0,760.5 1037.0,761.0" fill="none" stroke="#231f20" stroke-width="1.8"/>
<g fill="#231f20"><circle cx="740.0" cy="745.9" r="1.6"/><circle cx="742.9" cy="753.6" r="1.6"/><circle cx="744.7" cy="747.0" r="1.6"/><circle cx="746.4" cy="747.1" r="1.6"/><circle cx="748.1" cy="741.7" r="1.6"/><circle cx="750.6" cy="747.0" r="1.6"/><circle cx="753.6" cy="744.3" r="1.6"/><circle cx="756.5" cy="744.4" r="1.6"/><circle cx="759.3" cy="730.6" r="1.6"/><circle cx="762.3" cy="727.9" r="1.6"/><circle cx="764.4" cy="736.6" r="1.6"/><circle cx="766.6" cy="733.6" r="1.6"/><circle cx="769.5" cy="735.6" r="1.6"/><circle cx="772.1" cy="716.9" r="1.6"/><circle cx="774.7" cy="726.9" r="1.6"/><circle cx="777.1" cy="730.4" r="1.6"/><circle cx="779.3" cy="717.1" r="1.6"/><circle cx="781.6" cy="727.7" r="1.6"/><circle cx="783.6" cy="714.7" r="1.6"/><circle cx="785.7" cy="714.6" r="1.6"/><circle cx="788.8" cy="727.4" r="1.6"/><circle cx="791.8" cy="724.7" r="1.6"/><circle cx="793.4" cy="714.2" r="1.6"/><circle cx="796.3" cy="729.2" r="1.6"/><circle cx="799.2" cy="729.4" r="1.6"/><circle cx="802.4" cy="715.9" r="1.6"/><circle cx="804.9" cy="717.3" r="1.6"/><circle cx="807.4" cy="717.0" r="1.6"/><circle cx="809.3" cy="729.9" r="1.6"/><circle cx="812.0" cy="731.8" r="1.6"/><circle cx="814.5" cy="713.2" r="1.6"/><circle cx="816.7" cy="727.6" r="1.6"/><circle cx="819.9" cy="729.1" r="1.6"/><circle cx="822.4" cy="719.2" r="1.6"/><circle cx="825.3" cy="721.5" r="1.6"/><circle cx="828.5" cy="732.8" r="1.6"/><circle cx="830.7" cy="716.5" r="1.6"/><circle cx="833.0" cy="734.0" r="1.6"/><circle cx="835.7" cy="721.0" r="1.6"/><circle cx="837.5" cy="721.1" r="1.6"/><circle cx="839.4" cy="722.4" r="1.6"/><circle cx="841.5" cy="731.5" r="1.6"/><circle cx="844.2" cy="720.4" r="1.6"/><circle cx="846.0" cy="718.7" r="1.6"/><circle cx="848.4" cy="714.4" r="1.6"/><circle cx="850.0" cy="718.9" r="1.6"/><circle cx="851.6" cy="715.1" r="1.6"/><circle cx="853.7" cy="715.1" r="1.6"/><circle cx="855.9" cy="712.5" r="1.6"/><circle cx="859.1" cy="714.3" r="1.6"/><circle cx="861.9" cy="694.7" r="1.6"/><circle cx="863.5" cy="708.2" r="1.6"/><circle cx="865.2" cy="706.1" r="1.6"/><circle cx="867.3" cy="686.4" r="1.6"/><circle cx="870.0" cy="696.2" r="1.6"/><circle cx="873.1" cy="673.0" r="1.6"/><circle cx="875.5" cy="681.5" r="1.6"/><circle cx="878.4" cy="679.3" r="1.6"/><circle cx="880.8" cy="680.9" r="1.6"/><circle cx="883.9" cy="669.2" r="1.6"/><circle cx="885.5" cy="675.4" r="1.6"/><circle cx="887.1" cy="673.1" r="1.6"/><circle cx="890.0" cy="680.0" r="1.6"/><circle cx="892.6" cy="666.5" r="1.6"/><circle cx="895.3" cy="678.6" r="1.6"/><circle cx="897.2" cy="666.5" r="1.6"/><circle cx="900.0" cy="656.3" r="1.6"/><circle cx="901.4" cy="658.8" r="1.6"/><circle cx="904.5" cy="651.2" r="1.6"/><circle cx="907.5" cy="649.9" r="1.6"/><circle cx="910.2" cy="638.0" r="1.6"/><circle cx="912.1" cy="627.3" r="1.6"/><circle cx="913.8" cy="638.2" r="1.6"/><circle cx="916.1" cy="646.8" r="1.6"/><circle cx="919.0" cy="626.1" r="1.6"/><circle cx="920.9" cy="623.4" r="1.6"/><circle cx="923.2" cy="606.2" r="1.6"/><circle cx="926.0" cy="609.6" r="1.6"/><circle cx="928.1" cy="607.8" r="1.6"/><circle cx="929.8" cy="603.1" r="1.6"/><circle cx="931.5" cy="606.2" r="1.6"/><circle cx="933.3" cy="600.0" r="1.6"/><circle cx="935.8" cy="609.4" r="1.6"/><circle cx="938.0" cy="593.9" r="1.6"/><circle cx="939.5" cy="587.3" r="1.6"/><circle cx="941.7" cy="588.8" r="1.6"/><circle cx="944.7" cy="596.8" r="1.6"/><circle cx="947.3" cy="580.9" r="1.6"/><circle cx="950.0" cy="574.6" r="1.6"/><circle cx="952.7" cy="578.8" r="1.6"/><circle cx="955.2" cy="580.3" r="1.6"/><circle cx="958.0" cy="587.0" r="1.6"/><circle cx="960.3" cy="580.9" r="1.6"/><circle cx="962.4" cy="591.5" r="1.6"/><circle cx="964.4" cy="584.9" r="1.6"/><circle cx="967.5" cy="578.7" r="1.6"/><circle cx="969.7" cy="584.7" r="1.6"/><circle cx="972.9" cy="602.3" r="1.6"/><circle cx="975.1" cy="584.2" r="1.6"/><circle cx="976.9" cy="608.5" r="1.6"/><circle cx="980.0" cy="619.5" r="1.6"/><circle cx="983.1" cy="624.4" r="1.6"/><circle cx="984.7" cy="636.8" r="1.6"/><circle cx="986.7" cy="641.3" r="1.6"/><circle cx="988.4" cy="658.0" r="1.6"/><circle cx="990.2" cy="646.0" r="1.6"/><circle cx="992.9" cy="664.7" r="1.6"/><circle cx="995.8" cy="679.4" r="1.6"/><circle cx="998.3" cy="687.0" r="1.6"/><circle cx="1000.0" cy="700.3" r="1.6"/><circle cx="1002.1" cy="706.9" r="1.6"/><circle cx="1004.6" cy="723.1" r="1.6"/><circle cx="1007.6" cy="744.8" r="1.6"/><circle cx="1010.2" cy="741.3" r="1.6"/><circle cx="1012.1" cy="749.1" r="1.6"/><circle cx="1013.8" cy="743.4" r="1.6"/><circle cx="1015.4" cy="749.9" r="1.6"/><circle cx="1017.9" cy="742.6" r="1.6"/><circle cx="1019.8" cy="756.5" r="1.6"/><circle cx="1021.2" cy="752.6" r="1.6"/><circle cx="1024.1" cy="759.5" r="1.6"/><circle cx="1025.7" cy="744.6" r="1.6"/><circle cx="1027.4" cy="758.1" r="1.6"/><circle cx="1028.8" cy="753.0" r="1.6"/></g>
<rect x="736.8" y="20.6" width="300.20000000000005" height="742.4" fill="none" stroke="#231f20" stroke-width="2.4"/>
<line x1="736.80" y1="268.00" x2="1037.00" y2="268.00" stroke="#231f20" stroke-width="2.2" />
<line x1="736.80" y1="515.60" x2="1037.00" y2="515.60" stroke="#231f20" stroke-width="2.2" />
<line x1="737.05" y1="20.60" x2="737.05" y2="24.10" stroke="#231f20" stroke-width="2" />
<line x1="737.05" y1="763.00" x2="737.05" y2="766.50" stroke="#231f20" stroke-width="2" />
<line x1="753.70" y1="20.60" x2="753.70" y2="24.10" stroke="#231f20" stroke-width="2" />
<line x1="753.70" y1="763.00" x2="753.70" y2="766.50" stroke="#231f20" stroke-width="2" />
<line x1="770.35" y1="20.60" x2="770.35" y2="24.10" stroke="#231f20" stroke-width="2" />
<line x1="770.35" y1="763.00" x2="770.35" y2="766.50" stroke="#231f20" stroke-width="2" />
<line x1="787.00" y1="20.60" x2="787.00" y2="25.60" stroke="#231f20" stroke-width="2" />
<line x1="787.00" y1="763.00" x2="787.00" y2="768.00" stroke="#231f20" stroke-width="2" />
<line x1="803.65" y1="20.60" x2="803.65" y2="24.10" stroke="#231f20" stroke-width="2" />
<line x1="803.65" y1="763.00" x2="803.65" y2="766.50" stroke="#231f20" stroke-width="2" />
<line x1="820.30" y1="20.60" x2="820.30" y2="24.10" stroke="#231f20" stroke-width="2" />
<line x1="820.30" y1="763.00" x2="820.30" y2="766.50" stroke="#231f20" stroke-width="2" />
<line x1="836.95" y1="20.60" x2="836.95" y2="24.10" stroke="#231f20" stroke-width="2" />
<line x1="836.95" y1="763.00" x2="836.95" y2="766.50" stroke="#231f20" stroke-width="2" />
<line x1="853.60" y1="20.60" x2="853.60" y2="24.10" stroke="#231f20" stroke-width="2" />
<line x1="853.60" y1="763.00" x2="853.60" y2="766.50" stroke="#231f20" stroke-width="2" />
<line x1="870.25" y1="20.60" x2="870.25" y2="25.60" stroke="#231f20" stroke-width="2" />
<line x1="870.25" y1="763.00" x2="870.25" y2="768.00" stroke="#231f20" stroke-width="2" />
<line x1="886.90" y1="20.60" x2="886.90" y2="24.10" stroke="#231f20" stroke-width="2" />
<line x1="886.90" y1="763.00" x2="886.90" y2="766.50" stroke="#231f20" stroke-width="2" />
<line x1="903.55" y1="20.60" x2="903.55" y2="24.10" stroke="#231f20" stroke-width="2" />
<line x1="903.55" y1="763.00" x2="903.55" y2="766.50" stroke="#231f20" stroke-width="2" />
<line x1="920.20" y1="20.60" x2="920.20" y2="24.10" stroke="#231f20" stroke-width="2" />
<line x1="920.20" y1="763.00" x2="920.20" y2="766.50" stroke="#231f20" stroke-width="2" />
<line x1="936.85" y1="20.60" x2="936.85" y2="24.10" stroke="#231f20" stroke-width="2" />
<line x1="936.85" y1="763.00" x2="936.85" y2="766.50" stroke="#231f20" stroke-width="2" />
<line x1="953.50" y1="20.60" x2="953.50" y2="25.60" stroke="#231f20" stroke-width="2" />
<line x1="953.50" y1="763.00" x2="953.50" y2="768.00" stroke="#231f20" stroke-width="2" />
<line x1="970.15" y1="20.60" x2="970.15" y2="24.10" stroke="#231f20" stroke-width="2" />
<line x1="970.15" y1="763.00" x2="970.15" y2="766.50" stroke="#231f20" stroke-width="2" />
<line x1="986.80" y1="20.60" x2="986.80" y2="24.10" stroke="#231f20" stroke-width="2" />
<line x1="986.80" y1="763.00" x2="986.80" y2="766.50" stroke="#231f20" stroke-width="2" />
<line x1="1003.45" y1="20.60" x2="1003.45" y2="24.10" stroke="#231f20" stroke-width="2" />
<line x1="1003.45" y1="763.00" x2="1003.45" y2="766.50" stroke="#231f20" stroke-width="2" />
<line x1="1020.10" y1="20.60" x2="1020.10" y2="24.10" stroke="#231f20" stroke-width="2" />
<line x1="1020.10" y1="763.00" x2="1020.10" y2="766.50" stroke="#231f20" stroke-width="2" />
<line x1="1036.75" y1="20.60" x2="1036.75" y2="25.60" stroke="#231f20" stroke-width="2" />
<line x1="1036.75" y1="763.00" x2="1036.75" y2="768.00" stroke="#231f20" stroke-width="2" />
<text x="769.30" y="787.60" font-family='"Liberation Sans",sans-serif' font-weight="normal" font-size="21.08" textLength="35.16" lengthAdjust="spacingAndGlyphs" fill="#231f20">735</text>
<text x="852.52" y="787.60" font-family='"Liberation Sans",sans-serif' font-weight="normal" font-size="21.08" textLength="35.16" lengthAdjust="spacingAndGlyphs" fill="#231f20">730</text>
<text x="935.80" y="787.60" font-family='"Liberation Sans",sans-serif' font-weight="normal" font-size="21.08" textLength="35.16" lengthAdjust="spacingAndGlyphs" fill="#231f20">725</text>
<text x="1019.02" y="787.60" font-family='"Liberation Sans",sans-serif' font-weight="normal" font-size="21.08" textLength="35.16" lengthAdjust="spacingAndGlyphs" fill="#231f20">720</text>
<text x="783.40" y="812.00" font-family='"Liberation Sans",sans-serif' font-weight="normal" font-size="22.84" textLength="206.53" lengthAdjust="spacingAndGlyphs" fill="#231f20">Binding Energy (eV)</text>
<line x1="941.30" y1="22.00" x2="941.30" y2="763.00" stroke="#231f20" stroke-width="2.8" stroke-dasharray="7.5,5.5"/>
<line x1="981.80" y1="24.00" x2="981.80" y2="763.00" stroke="#231f20" stroke-width="2.3" stroke-dasharray="7.5,5.5"/>
<text x="908.48" y="17.80" font-family='"Liberation Sans",sans-serif' font-weight="bold" font-size="20.22" textLength="26.30" lengthAdjust="spacingAndGlyphs" fill="#231f20" stroke="#231f20" stroke-width="0.71" stroke-linejoin="round">Fe</text>
<text x="934.68" y="11.50" font-family='"Liberation Sans",sans-serif' font-weight="bold" font-size="12.90" textLength="7.83" lengthAdjust="spacingAndGlyphs" fill="#231f20" stroke="#231f20" stroke-width="0.45" stroke-linejoin="round">3</text>
<text x="942.15" y="10.50" font-family='"Liberation Sans",sans-serif' font-weight="bold" font-size="11.91" textLength="11.68" lengthAdjust="spacingAndGlyphs" fill="#231f20" stroke="#231f20" stroke-width="0.42" stroke-linejoin="round">+</text>
<text x="966.40" y="18.00" font-family='"Liberation Sans",sans-serif' font-weight="bold" font-size="20.80" textLength="25.86" lengthAdjust="spacingAndGlyphs" fill="#231f20" stroke="#231f20" stroke-width="0.73" stroke-linejoin="round">Fe</text>
<text x="992.45" y="11.50" font-family='"Liberation Sans",sans-serif' font-weight="bold" font-size="12.90" textLength="8.69" lengthAdjust="spacingAndGlyphs" fill="#231f20" stroke="#231f20" stroke-width="0.45" stroke-linejoin="round">2</text>
<text x="1001.62" y="10.50" font-family='"Liberation Sans",sans-serif' font-weight="bold" font-size="11.91" textLength="12.03" lengthAdjust="spacingAndGlyphs" fill="#231f20" stroke="#231f20" stroke-width="0.42" stroke-linejoin="round">+</text>
<text x="760.65" y="68.80" font-family='"Liberation Sans",sans-serif' font-weight="bold" font-size="31.13" textLength="83.29" lengthAdjust="spacingAndGlyphs" fill="#231f20" stroke="#231f20" stroke-width="1.09" stroke-linejoin="round">Fe 2p</text>
<text x="851.78" y="76.10" font-family='"Liberation Sans",sans-serif' font-weight="bold" font-size="21.53" textLength="38.33" lengthAdjust="spacingAndGlyphs" fill="#231f20" stroke="#231f20" stroke-width="0.75" stroke-linejoin="round">1/2</text>
<text x="765.96" y="123.50" font-family='"Liberation Serif",serif' font-weight="bold" font-size="35.54" textLength="31.19" lengthAdjust="spacingAndGlyphs" fill="#231f20">b)</text>
<rect x="1061.4" y="15.8" width="85.1" height="32.1" fill="url(#ll)"/>
<rect x="1061.4" y="52.8" width="85.1" height="33" fill="url(#ld)"/>
<text x="1163.59" y="34.70" font-family='"Liberation Sans",sans-serif' font-weight="bold" font-size="31.13" textLength="103.98" lengthAdjust="spacingAndGlyphs" fill="#231f20" stroke="#231f20" stroke-width="1.09" stroke-linejoin="round">LiFePO</text>
<text x="1267.16" y="41.70" font-family='"Liberation Sans",sans-serif' font-weight="bold" font-size="21.09" textLength="12.47" lengthAdjust="spacingAndGlyphs" fill="#231f20" stroke="#231f20" stroke-width="0.74" stroke-linejoin="round">4</text>
<text x="1168.77" y="77.00" font-family='"Liberation Sans",sans-serif' font-weight="bold" font-size="30.40" textLength="78.49" lengthAdjust="spacingAndGlyphs" fill="#231f20" stroke="#231f20" stroke-width="1.06" stroke-linejoin="round">FePO</text>
<text x="1246.26" y="84.50" font-family='"Liberation Sans",sans-serif' font-weight="bold" font-size="21.96" textLength="12.68" lengthAdjust="spacingAndGlyphs" fill="#231f20" stroke="#231f20" stroke-width="0.77" stroke-linejoin="round">4</text>
<text x="1058.69" y="169.20" font-family='"Liberation Sans",sans-serif' font-weight="bold" font-size="28.65" textLength="16.15" lengthAdjust="spacingAndGlyphs" fill="#231f20" stroke="#231f20" stroke-width="1.00" stroke-linejoin="round">1</text>
<text x="1076.25" y="159.70" font-family='"Liberation Sans",sans-serif' font-weight="bold" font-size="21.30" textLength="19.05" lengthAdjust="spacingAndGlyphs" fill="#231f20" stroke="#231f20" stroke-width="0.75" stroke-linejoin="round">st</text>
<text x="1103.78" y="169.20" font-family='"Liberation Sans",sans-serif' font-weight="bold" font-size="29.52" textLength="76.62" lengthAdjust="spacingAndGlyphs" fill="#231f20" stroke="#231f20" stroke-width="1.03" stroke-linejoin="round">cycle</text>
<rect x="1040.6" y="223.6" width="64" height="24.30000000000001" fill="url(#sl)"/>
<text x="1116.24" y="239.80" font-family='"Liberation Sans",sans-serif' font-weight="bold" font-size="21.24" textLength="75.44" lengthAdjust="spacingAndGlyphs" fill="#231f20" stroke="#231f20" stroke-width="0.74" stroke-linejoin="round">100 %</text>
<text x="1046.30" y="372.90" font-family='"Liberation Sans",sans-serif' font-weight="bold" font-size="30.54" textLength="57.34" lengthAdjust="spacingAndGlyphs" fill="#8b8c8e" stroke="#8b8c8e" stroke-width="1.07" stroke-linejoin="round">200</text>
<text x="1103.34" y="363.70" font-family='"Liberation Sans",sans-serif' font-weight="bold" font-size="19.59" textLength="21.31" lengthAdjust="spacingAndGlyphs" fill="#8b8c8e" stroke="#8b8c8e" stroke-width="0.69" stroke-linejoin="round">th</text>
<text x="1133.02" y="372.90" font-family='"Liberation Sans",sans-serif' font-weight="bold" font-size="29.38" textLength="75.97" lengthAdjust="spacingAndGlyphs" fill="#8b8c8e" stroke="#8b8c8e" stroke-width="1.03" stroke-linejoin="round">cycle</text>
<text x="1106.99" y="407.90" font-family='"Liberation Sans",sans-serif' font-weight="bold" font-size="29.67" textLength="39.73" lengthAdjust="spacingAndGlyphs" fill="#8b8c8e" stroke="#8b8c8e" stroke-width="1.04" stroke-linejoin="round">RT</text>
<rect x="1040.6" y="443.5" width="64" height="25.0" fill="url(#sl)"/>
<text x="1117.02" y="459.75" font-family='"Liberation Sans",sans-serif' font-weight="bold" font-size="22.29" textLength="61.71" lengthAdjust="spacingAndGlyphs" fill="#231f20" stroke="#231f20" stroke-width="0.78" stroke-linejoin="round">85 %</text>
<rect x="1040.6" y="483" width="64" height="24.399999999999977" fill="url(#sd)"/>
<text x="1115.52" y="503.50" font-family='"Liberation Sans",sans-serif' font-weight="bold" font-size="21.09" textLength="61.41" lengthAdjust="spacingAndGlyphs" fill="#231f20" stroke="#231f20" stroke-width="0.74" stroke-linejoin="round">15 %</text>
<text x="1046.79" y="637.50" font-family='"Liberation Sans",sans-serif' font-weight="bold" font-size="30.54" textLength="57.52" lengthAdjust="spacingAndGlyphs" fill="#333" stroke="#333" stroke-width="1.07" stroke-linejoin="round">200</text>
<text x="1104.02" y="628.30" font-family='"Liberation Sans",sans-serif' font-weight="bold" font-size="19.59" textLength="21.37" lengthAdjust="spacingAndGlyphs" fill="#333" stroke="#333" stroke-width="0.69" stroke-linejoin="round">th</text>
<text x="1133.78" y="637.50" font-family='"Liberation Sans",sans-serif' font-weight="bold" font-size="29.38" textLength="76.21" lengthAdjust="spacingAndGlyphs" fill="#333" stroke="#333" stroke-width="1.03" stroke-linejoin="round">cycle</text>
<text x="1090.44" y="672.00" font-family='"Liberation Sans",sans-serif' font-weight="bold" font-size="30.54" textLength="75.07" lengthAdjust="spacingAndGlyphs" fill="#333" stroke="#333" stroke-width="1.07" stroke-linejoin="round">60°C</text>
<rect x="1040.6" y="696.7" width="64" height="24.0" fill="url(#sl)"/>
<text x="1115.85" y="713.00" font-family='"Liberation Sans",sans-serif' font-weight="bold" font-size="22.25" textLength="61.88" lengthAdjust="spacingAndGlyphs" fill="#231f20" stroke="#231f20" stroke-width="0.78" stroke-linejoin="round">78 %</text>
<rect x="1040.6" y="733.8" width="64" height="25.40000000000009" fill="url(#sd)"/>
<text x="1116.05" y="754.20" font-family='"Liberation Sans",sans-serif' font-weight="bold" font-size="21.22" textLength="61.67" lengthAdjust="spacingAndGlyphs" fill="#231f20" stroke="#231f20" stroke-width="0.74" stroke-linejoin="round">23 %</text>
</svg></body></html>
